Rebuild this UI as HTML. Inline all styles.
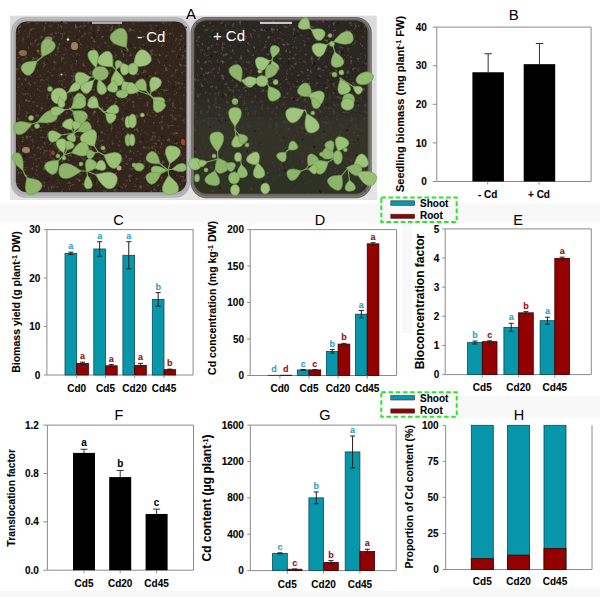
<!DOCTYPE html>
<html><head><meta charset="utf-8"><style>
html,body{margin:0;padding:0;background:#fff;}
svg{display:block;font-family:"Liberation Sans", sans-serif;}
</style></head><body>
<svg width="600" height="597" viewBox="0 0 600 597">
<rect width="600" height="597" fill="#fff"/>
<rect x="0" y="203.5" width="600" height="20" fill="#f8f8f8"/>
<rect x="457" y="396" width="143" height="21.5" fill="#f8f8f8"/>
<rect x="0" y="591" width="440" height="6" fill="#f8f8f8"/>
<rect x="440" y="587.5" width="160" height="9.5" fill="#f8f8f8"/>
<rect x="402.5" y="224" width="9.5" height="109" fill="#f8f8f8"/>
<g>
<rect x="10.00" y="15.80" width="366.50" height="183.70" fill="#dedede" stroke="none" stroke-width="0.6"/>
<rect x="10.00" y="190.00" width="366.50" height="9.50" fill="#e6e6e6" stroke="none" stroke-width="0.6"/>
<defs><filter id="soilTex" x="0" y="0" width="100%" height="100%"><feTurbulence type="fractalNoise" baseFrequency="0.28" numOctaves="3" seed="3" result="n"/><feColorMatrix in="n" type="matrix" values="0 0 0 0 0.30  0 0 0 0 0.22  0 0 0 0 0.16  1.4 0 0 0 -0.85" result="c"/><feComposite in="c" in2="SourceGraphic" operator="in" result="t"/><feMerge><feMergeNode in="SourceGraphic"/><feMergeNode in="t"/></feMerge></filter><linearGradient id="moss" x1="0" y1="0" x2="0" y2="1"><stop offset="0" stop-color="#33362a" stop-opacity="0"/><stop offset="0.45" stop-color="#33362a" stop-opacity="0.8"/><stop offset="1" stop-color="#2e3124" stop-opacity="0.9"/></linearGradient><filter id="soft" x="-2%" y="-2%" width="104%" height="104%"><feGaussianBlur stdDeviation="0.7"/></filter></defs>
<g filter="url(#soft)">
<rect x="10.00" y="15.80" width="366.50" height="183.90" fill="#dcdcdc" stroke="none" stroke-width="0.6"/>
<rect x="10.00" y="185.00" width="366.50" height="14.70" fill="#e4e4e4" stroke="none" stroke-width="0.6"/>
<rect x="11" y="17.3" width="179" height="180.5" rx="15" fill="#adadb1"/>
<rect x="12.6" y="18.9" width="175.8" height="177.3" rx="13.5" fill="none" stroke="#c4c4c7" stroke-width="1"/>
<rect x="15.8" y="21.5" width="170.6" height="170.8" rx="11" fill="#30271f" filter="url(#soilTex)"/>
<rect x="190.6" y="17" width="181.2" height="181.2" rx="16" fill="#6a6560"/>
<rect x="192" y="18.4" width="178.4" height="178.4" rx="14.5" fill="none" stroke="#8a8580" stroke-width="0.9"/>
<rect x="194.3" y="20.6" width="173.3" height="172.8" rx="12" fill="#2a2620" filter="url(#soilTex)"/>
<rect x="194.3" y="80" width="173.3" height="113.4" rx="12" fill="url(#moss)"/>
<circle cx="41.6" cy="132.3" r="0.5" fill="#1f1e19"/>
<circle cx="115.1" cy="176.6" r="0.6" fill="#4a3a2e"/>
<circle cx="27.9" cy="36.5" r="0.8" fill="#5e4634"/>
<circle cx="357.0" cy="128.8" r="0.9" fill="#4a3a2e"/>
<circle cx="262.8" cy="187.9" r="0.4" fill="#5e4634"/>
<circle cx="87.3" cy="113.5" r="0.9" fill="#1f1e19"/>
<circle cx="225.9" cy="120.5" r="1.0" fill="#1c1713"/>
<circle cx="137.1" cy="117.5" r="1.0" fill="#574436"/>
<circle cx="268.1" cy="74.7" r="0.9" fill="#574436"/>
<circle cx="58.2" cy="51.7" r="1.1" fill="#4a3a2e"/>
<circle cx="284.8" cy="170.6" r="1.1" fill="#1c1713"/>
<circle cx="207.5" cy="108.5" r="0.5" fill="#1c1713"/>
<circle cx="99.1" cy="27.7" r="1.0" fill="#5e4634"/>
<circle cx="329.9" cy="160.9" r="0.7" fill="#1c1713"/>
<circle cx="294.2" cy="99.0" r="1.2" fill="#1c1713"/>
<circle cx="128.9" cy="31.4" r="1.0" fill="#453829"/>
<circle cx="311.5" cy="97.2" r="1.0" fill="#453829"/>
<circle cx="175.9" cy="81.8" r="0.9" fill="#574436"/>
<circle cx="146.6" cy="43.1" r="0.6" fill="#574436"/>
<circle cx="279.9" cy="49.4" r="0.8" fill="#1c1713"/>
<circle cx="335.1" cy="168.7" r="0.7" fill="#574436"/>
<circle cx="311.7" cy="86.1" r="0.6" fill="#4a3a2e"/>
<circle cx="55.4" cy="60.9" r="0.8" fill="#1f1e19"/>
<circle cx="63.9" cy="45.9" r="0.9" fill="#1f1e19"/>
<circle cx="358.0" cy="139.1" r="0.9" fill="#1f1e19"/>
<circle cx="321.5" cy="99.1" r="1.2" fill="#5e4634"/>
<circle cx="290.6" cy="89.1" r="0.8" fill="#574436"/>
<circle cx="205.6" cy="32.5" r="0.6" fill="#403228"/>
<circle cx="118.1" cy="38.5" r="0.9" fill="#1f1e19"/>
<circle cx="77.8" cy="25.4" r="1.2" fill="#1f1e19"/>
<circle cx="123.8" cy="184.4" r="0.9" fill="#574436"/>
<circle cx="160.3" cy="190.8" r="0.8" fill="#574436"/>
<circle cx="40.5" cy="149.2" r="1.1" fill="#574436"/>
<circle cx="222.6" cy="24.9" r="1.3" fill="#1f1e19"/>
<circle cx="133.3" cy="177.3" r="1.1" fill="#1c1713"/>
<circle cx="342.6" cy="140.0" r="0.6" fill="#1c1713"/>
<circle cx="255.8" cy="59.1" r="0.9" fill="#1f1e19"/>
<circle cx="53.9" cy="159.8" r="1.3" fill="#5e4634"/>
<circle cx="56.7" cy="89.5" r="1.1" fill="#403228"/>
<circle cx="255.8" cy="26.0" r="0.4" fill="#1c1713"/>
<circle cx="48.9" cy="124.5" r="0.7" fill="#5e4634"/>
<circle cx="364.0" cy="184.3" r="0.7" fill="#403228"/>
<circle cx="95.9" cy="78.8" r="0.8" fill="#1f1e19"/>
<circle cx="277.0" cy="132.7" r="1.1" fill="#4a3a2e"/>
<circle cx="215.5" cy="87.4" r="1.0" fill="#403228"/>
<circle cx="46.3" cy="155.9" r="0.7" fill="#5e4634"/>
<circle cx="318.4" cy="100.2" r="1.1" fill="#4a3a2e"/>
<circle cx="224.1" cy="42.7" r="0.5" fill="#574436"/>
<circle cx="220.0" cy="162.3" r="1.3" fill="#453829"/>
<circle cx="221.7" cy="114.8" r="0.4" fill="#5e4634"/>
<circle cx="306.1" cy="111.0" r="1.2" fill="#574436"/>
<circle cx="228.3" cy="170.4" r="0.4" fill="#403228"/>
<circle cx="56.9" cy="121.3" r="0.6" fill="#574436"/>
<circle cx="205.4" cy="147.5" r="1.2" fill="#453829"/>
<circle cx="349.6" cy="92.9" r="1.2" fill="#1f1e19"/>
<circle cx="41.8" cy="108.3" r="1.2" fill="#5e4634"/>
<circle cx="16.7" cy="157.7" r="0.6" fill="#574436"/>
<circle cx="215.6" cy="31.6" r="1.0" fill="#1f1e19"/>
<circle cx="329.1" cy="39.1" r="0.9" fill="#403228"/>
<circle cx="23.2" cy="37.7" r="0.8" fill="#4a3a2e"/>
<circle cx="351.0" cy="96.8" r="1.0" fill="#1f1e19"/>
<circle cx="229.1" cy="68.4" r="0.9" fill="#5e4634"/>
<circle cx="176.1" cy="140.6" r="1.2" fill="#1c1713"/>
<circle cx="347.7" cy="55.6" r="0.8" fill="#574436"/>
<circle cx="91.2" cy="33.4" r="0.6" fill="#4a3a2e"/>
<circle cx="67.5" cy="41.9" r="1.1" fill="#453829"/>
<circle cx="257.6" cy="64.3" r="0.5" fill="#574436"/>
<circle cx="177.9" cy="89.1" r="0.8" fill="#453829"/>
<circle cx="222.6" cy="94.8" r="0.9" fill="#1c1713"/>
<circle cx="76.6" cy="36.8" r="0.7" fill="#1c1713"/>
<circle cx="270.3" cy="24.1" r="0.7" fill="#1f1e19"/>
<circle cx="179.3" cy="40.3" r="1.2" fill="#403228"/>
<circle cx="212.9" cy="66.4" r="0.4" fill="#5e4634"/>
<circle cx="144.5" cy="161.2" r="1.2" fill="#453829"/>
<circle cx="239.2" cy="46.5" r="1.2" fill="#1f1e19"/>
<circle cx="71.6" cy="68.7" r="1.1" fill="#403228"/>
<circle cx="28.3" cy="181.5" r="1.0" fill="#5e4634"/>
<circle cx="119.4" cy="59.0" r="0.6" fill="#4a3a2e"/>
<circle cx="73.7" cy="115.6" r="1.2" fill="#1c1713"/>
<circle cx="202.4" cy="142.3" r="1.2" fill="#403228"/>
<circle cx="46.8" cy="180.4" r="1.0" fill="#1f1e19"/>
<circle cx="244.6" cy="106.5" r="0.6" fill="#1c1713"/>
<circle cx="365.1" cy="27.3" r="0.4" fill="#1f1e19"/>
<circle cx="227.4" cy="102.2" r="1.2" fill="#4a3a2e"/>
<circle cx="306.2" cy="133.3" r="0.9" fill="#574436"/>
<circle cx="247.6" cy="57.8" r="0.6" fill="#403228"/>
<circle cx="315.9" cy="129.8" r="0.8" fill="#1c1713"/>
<circle cx="338.1" cy="23.4" r="1.0" fill="#1c1713"/>
<circle cx="25.4" cy="134.8" r="0.7" fill="#1f1e19"/>
<circle cx="243.2" cy="62.4" r="0.7" fill="#574436"/>
<circle cx="61.7" cy="21.6" r="0.7" fill="#1c1713"/>
<circle cx="288.5" cy="62.8" r="1.3" fill="#1c1713"/>
<circle cx="47.1" cy="78.3" r="0.5" fill="#1c1713"/>
<circle cx="229.4" cy="107.3" r="0.4" fill="#1c1713"/>
<circle cx="219.6" cy="121.3" r="0.8" fill="#1c1713"/>
<circle cx="55.6" cy="121.1" r="0.9" fill="#5e4634"/>
<circle cx="167.8" cy="155.1" r="0.9" fill="#5e4634"/>
<circle cx="183.4" cy="46.6" r="1.1" fill="#453829"/>
<circle cx="156.2" cy="143.3" r="0.9" fill="#574436"/>
<circle cx="333.9" cy="44.8" r="0.9" fill="#1f1e19"/>
<circle cx="334.0" cy="23.7" r="1.0" fill="#5e4634"/>
<circle cx="311.8" cy="139.6" r="0.6" fill="#4a3a2e"/>
<circle cx="124.3" cy="185.1" r="0.7" fill="#574436"/>
<circle cx="302.3" cy="128.1" r="1.0" fill="#574436"/>
<circle cx="93.7" cy="33.0" r="1.2" fill="#1f1e19"/>
<circle cx="105.4" cy="148.5" r="0.8" fill="#5e4634"/>
<circle cx="61.1" cy="145.7" r="0.6" fill="#453829"/>
<circle cx="273.7" cy="165.6" r="0.5" fill="#453829"/>
<circle cx="23.9" cy="129.2" r="0.6" fill="#1f1e19"/>
<circle cx="59.2" cy="148.1" r="0.7" fill="#1f1e19"/>
<circle cx="98.0" cy="104.1" r="1.3" fill="#4a3a2e"/>
<circle cx="310.5" cy="70.7" r="0.9" fill="#574436"/>
<circle cx="146.4" cy="190.9" r="0.9" fill="#1c1713"/>
<circle cx="355.1" cy="24.0" r="0.8" fill="#5e4634"/>
<circle cx="365.1" cy="191.0" r="0.7" fill="#403228"/>
<circle cx="31.4" cy="148.8" r="0.6" fill="#1c1713"/>
<circle cx="155.4" cy="108.0" r="1.2" fill="#453829"/>
<circle cx="100.6" cy="170.8" r="0.8" fill="#403228"/>
<circle cx="99.6" cy="98.1" r="0.7" fill="#403228"/>
<circle cx="79.9" cy="41.7" r="0.7" fill="#1c1713"/>
<circle cx="338.5" cy="41.5" r="1.2" fill="#453829"/>
<circle cx="141.8" cy="64.3" r="0.5" fill="#574436"/>
<circle cx="295.7" cy="82.7" r="0.8" fill="#1c1713"/>
<circle cx="243.0" cy="29.8" r="1.0" fill="#453829"/>
<circle cx="237.6" cy="66.4" r="0.9" fill="#403228"/>
<circle cx="329.3" cy="94.1" r="0.4" fill="#5e4634"/>
<circle cx="351.2" cy="181.9" r="0.9" fill="#453829"/>
<circle cx="174.7" cy="91.3" r="1.0" fill="#403228"/>
<circle cx="243.9" cy="29.4" r="1.2" fill="#403228"/>
<circle cx="86.5" cy="69.2" r="0.6" fill="#453829"/>
<circle cx="239.5" cy="133.2" r="0.7" fill="#1f1e19"/>
<circle cx="215.5" cy="131.0" r="0.5" fill="#1f1e19"/>
<circle cx="280.0" cy="58.6" r="1.2" fill="#5e4634"/>
<circle cx="39.7" cy="53.9" r="0.5" fill="#1c1713"/>
<circle cx="249.6" cy="84.0" r="1.1" fill="#403228"/>
<circle cx="323.2" cy="91.6" r="0.8" fill="#1f1e19"/>
<circle cx="61.9" cy="149.6" r="0.8" fill="#1f1e19"/>
<circle cx="216.5" cy="107.1" r="1.0" fill="#5e4634"/>
<circle cx="210.8" cy="174.4" r="0.7" fill="#453829"/>
<circle cx="178.2" cy="166.1" r="1.2" fill="#4a3a2e"/>
<circle cx="88.3" cy="151.6" r="1.1" fill="#1f1e19"/>
<circle cx="28.4" cy="180.1" r="1.2" fill="#1f1e19"/>
<circle cx="361.3" cy="63.5" r="0.5" fill="#403228"/>
<circle cx="181.2" cy="39.6" r="1.1" fill="#453829"/>
<circle cx="325.8" cy="99.2" r="0.9" fill="#4a3a2e"/>
<circle cx="37.4" cy="118.4" r="0.4" fill="#453829"/>
<circle cx="37.8" cy="64.1" r="1.0" fill="#453829"/>
<circle cx="212.0" cy="72.4" r="1.2" fill="#403228"/>
<circle cx="54.0" cy="123.8" r="0.4" fill="#1c1713"/>
<circle cx="242.6" cy="75.1" r="1.2" fill="#403228"/>
<circle cx="55.9" cy="63.2" r="1.3" fill="#453829"/>
<circle cx="204.5" cy="54.2" r="1.2" fill="#453829"/>
<circle cx="59.7" cy="135.1" r="1.2" fill="#403228"/>
<circle cx="134.3" cy="143.8" r="0.7" fill="#574436"/>
<circle cx="151.5" cy="147.4" r="0.9" fill="#403228"/>
<circle cx="50.1" cy="152.0" r="0.6" fill="#574436"/>
<circle cx="145.3" cy="71.4" r="1.3" fill="#574436"/>
<circle cx="348.3" cy="103.9" r="1.2" fill="#4a3a2e"/>
<circle cx="220.0" cy="88.3" r="0.6" fill="#1f1e19"/>
<circle cx="24.8" cy="31.3" r="0.8" fill="#453829"/>
<circle cx="320.3" cy="191.6" r="1.2" fill="#1c1713"/>
<circle cx="126.9" cy="110.7" r="0.8" fill="#1c1713"/>
<circle cx="259.7" cy="84.9" r="0.7" fill="#403228"/>
<circle cx="29.3" cy="34.8" r="0.8" fill="#4a3a2e"/>
<circle cx="324.8" cy="86.0" r="1.1" fill="#1c1713"/>
<circle cx="268.9" cy="29.4" r="0.8" fill="#1c1713"/>
<circle cx="271.3" cy="76.3" r="1.1" fill="#574436"/>
<circle cx="85.8" cy="159.8" r="1.1" fill="#4a3a2e"/>
<circle cx="94.9" cy="158.4" r="0.5" fill="#403228"/>
<circle cx="348.7" cy="79.0" r="0.6" fill="#1f1e19"/>
<circle cx="142.9" cy="138.9" r="1.2" fill="#1c1713"/>
<circle cx="144.5" cy="177.7" r="1.0" fill="#4a3a2e"/>
<circle cx="55.8" cy="102.3" r="1.3" fill="#5e4634"/>
<circle cx="58.7" cy="94.5" r="0.8" fill="#574436"/>
<circle cx="152.4" cy="147.3" r="1.1" fill="#5e4634"/>
<circle cx="56.1" cy="168.3" r="0.8" fill="#5e4634"/>
<circle cx="208.5" cy="54.7" r="1.1" fill="#403228"/>
<circle cx="126.4" cy="103.4" r="0.9" fill="#403228"/>
<circle cx="346.1" cy="189.9" r="0.6" fill="#4a3a2e"/>
<circle cx="87.6" cy="190.0" r="1.3" fill="#403228"/>
<circle cx="86.9" cy="127.1" r="1.0" fill="#453829"/>
<circle cx="327.3" cy="150.9" r="1.1" fill="#1c1713"/>
<circle cx="112.4" cy="84.8" r="1.1" fill="#403228"/>
<circle cx="47.6" cy="61.3" r="0.7" fill="#1f1e19"/>
<circle cx="27.0" cy="64.0" r="0.6" fill="#1f1e19"/>
<circle cx="153.4" cy="132.7" r="1.3" fill="#4a3a2e"/>
<circle cx="166.1" cy="60.5" r="0.8" fill="#1c1713"/>
<circle cx="65.9" cy="41.4" r="0.6" fill="#5e4634"/>
<circle cx="354.1" cy="84.7" r="1.2" fill="#574436"/>
<circle cx="327.5" cy="134.7" r="0.4" fill="#453829"/>
<circle cx="301.0" cy="58.2" r="0.7" fill="#403228"/>
<circle cx="186.0" cy="27.5" r="1.1" fill="#403228"/>
<circle cx="335.0" cy="90.9" r="0.7" fill="#1f1e19"/>
<circle cx="50.6" cy="157.0" r="0.9" fill="#4a3a2e"/>
<circle cx="151.3" cy="134.5" r="0.5" fill="#1f1e19"/>
<circle cx="43.8" cy="139.9" r="0.8" fill="#1c1713"/>
<circle cx="266.5" cy="29.8" r="1.1" fill="#1c1713"/>
<circle cx="19.1" cy="152.1" r="1.1" fill="#453829"/>
<circle cx="139.8" cy="55.8" r="0.4" fill="#403228"/>
<circle cx="155.5" cy="90.5" r="1.2" fill="#574436"/>
<circle cx="217.2" cy="29.8" r="0.5" fill="#5e4634"/>
<circle cx="210.2" cy="127.4" r="0.7" fill="#1f1e19"/>
<circle cx="75.2" cy="48.7" r="0.6" fill="#4a3a2e"/>
<circle cx="99.4" cy="158.6" r="1.3" fill="#403228"/>
<circle cx="158.3" cy="28.4" r="1.2" fill="#1c1713"/>
<circle cx="173.4" cy="87.3" r="1.2" fill="#1f1e19"/>
<circle cx="347.4" cy="130.5" r="1.2" fill="#1f1e19"/>
<circle cx="159.9" cy="162.8" r="0.6" fill="#403228"/>
<circle cx="175.6" cy="47.8" r="0.7" fill="#403228"/>
<circle cx="139.2" cy="174.4" r="0.4" fill="#1f1e19"/>
<circle cx="310.0" cy="135.2" r="0.7" fill="#574436"/>
<circle cx="289.1" cy="128.2" r="0.7" fill="#574436"/>
<circle cx="58.4" cy="87.6" r="0.7" fill="#1f1e19"/>
<circle cx="20.0" cy="126.8" r="0.8" fill="#403228"/>
<circle cx="121.2" cy="161.0" r="1.2" fill="#5e4634"/>
<circle cx="34.2" cy="43.0" r="0.8" fill="#4a3a2e"/>
<circle cx="281.2" cy="133.4" r="0.4" fill="#403228"/>
<circle cx="140.7" cy="154.0" r="0.9" fill="#4a3a2e"/>
<circle cx="348.0" cy="132.6" r="1.1" fill="#4a3a2e"/>
<circle cx="365.3" cy="146.2" r="1.1" fill="#403228"/>
<circle cx="166.6" cy="70.2" r="1.1" fill="#5e4634"/>
<circle cx="150.0" cy="180.1" r="0.5" fill="#1c1713"/>
<circle cx="238.1" cy="76.4" r="1.0" fill="#5e4634"/>
<circle cx="59.2" cy="185.9" r="0.8" fill="#1f1e19"/>
<circle cx="102.0" cy="75.6" r="0.4" fill="#403228"/>
<circle cx="124.2" cy="68.6" r="0.7" fill="#574436"/>
<circle cx="149.4" cy="40.7" r="0.9" fill="#453829"/>
<circle cx="360.2" cy="98.5" r="0.9" fill="#453829"/>
<circle cx="212.9" cy="190.8" r="1.0" fill="#574436"/>
<circle cx="258.5" cy="85.3" r="0.7" fill="#403228"/>
<circle cx="146.0" cy="96.6" r="0.6" fill="#453829"/>
<circle cx="245.7" cy="109.3" r="0.7" fill="#5e4634"/>
<circle cx="308.5" cy="74.5" r="0.4" fill="#4a3a2e"/>
<circle cx="65.5" cy="128.0" r="0.8" fill="#1c1713"/>
<circle cx="217.6" cy="59.9" r="1.0" fill="#4a3a2e"/>
<circle cx="112.4" cy="72.9" r="0.9" fill="#1f1e19"/>
<circle cx="115.2" cy="121.7" r="0.6" fill="#1f1e19"/>
<circle cx="222.1" cy="23.4" r="1.1" fill="#453829"/>
<circle cx="32.3" cy="130.1" r="1.2" fill="#5e4634"/>
<circle cx="154.0" cy="186.4" r="0.5" fill="#5e4634"/>
<circle cx="254.9" cy="131.4" r="0.8" fill="#1f1e19"/>
<circle cx="237.5" cy="175.5" r="0.4" fill="#1f1e19"/>
<circle cx="47.6" cy="48.2" r="1.2" fill="#4a3a2e"/>
<circle cx="109.7" cy="181.9" r="0.5" fill="#403228"/>
<circle cx="304.9" cy="131.7" r="0.8" fill="#1f1e19"/>
<circle cx="68.6" cy="72.3" r="0.4" fill="#453829"/>
<circle cx="317.3" cy="22.1" r="1.2" fill="#453829"/>
<circle cx="208.8" cy="133.1" r="0.6" fill="#4a3a2e"/>
<circle cx="125.5" cy="42.1" r="1.2" fill="#453829"/>
<circle cx="240.0" cy="30.0" r="1.0" fill="#453829"/>
<circle cx="150.0" cy="110.5" r="0.6" fill="#453829"/>
<circle cx="347.9" cy="35.6" r="0.9" fill="#403228"/>
<circle cx="56.1" cy="148.2" r="1.3" fill="#453829"/>
<circle cx="227.8" cy="87.5" r="0.9" fill="#574436"/>
<circle cx="302.8" cy="139.5" r="1.0" fill="#1f1e19"/>
<circle cx="158.8" cy="140.3" r="1.2" fill="#574436"/>
<circle cx="235.0" cy="172.3" r="1.1" fill="#574436"/>
<circle cx="208.3" cy="176.7" r="0.5" fill="#4a3a2e"/>
<circle cx="121.7" cy="48.7" r="1.3" fill="#453829"/>
<circle cx="23.1" cy="139.4" r="1.0" fill="#453829"/>
<circle cx="23.9" cy="167.5" r="1.1" fill="#403228"/>
<circle cx="335.1" cy="173.4" r="0.5" fill="#5e4634"/>
<circle cx="316.6" cy="86.6" r="0.6" fill="#403228"/>
<circle cx="21.9" cy="166.0" r="1.1" fill="#453829"/>
<circle cx="143.7" cy="129.1" r="0.8" fill="#403228"/>
<circle cx="144.8" cy="56.1" r="0.7" fill="#574436"/>
<circle cx="75.7" cy="180.0" r="0.4" fill="#5e4634"/>
<circle cx="70.5" cy="185.8" r="0.9" fill="#5e4634"/>
<circle cx="142.8" cy="155.9" r="0.4" fill="#1f1e19"/>
<circle cx="254.3" cy="141.5" r="0.9" fill="#403228"/>
<circle cx="336.6" cy="119.2" r="0.7" fill="#574436"/>
<circle cx="50.3" cy="151.3" r="1.3" fill="#4a3a2e"/>
<circle cx="32.3" cy="139.9" r="1.1" fill="#574436"/>
<circle cx="358.7" cy="109.1" r="0.9" fill="#403228"/>
<circle cx="52.5" cy="140.6" r="0.8" fill="#4a3a2e"/>
<circle cx="326.1" cy="104.8" r="1.3" fill="#1f1e19"/>
<circle cx="302.4" cy="81.8" r="0.8" fill="#574436"/>
<circle cx="322.4" cy="93.2" r="1.0" fill="#1c1713"/>
<circle cx="60.7" cy="175.1" r="0.9" fill="#574436"/>
<circle cx="302.9" cy="182.4" r="0.5" fill="#1f1e19"/>
<circle cx="323.8" cy="131.5" r="0.7" fill="#1c1713"/>
<circle cx="343.4" cy="98.0" r="0.9" fill="#1c1713"/>
<circle cx="90.6" cy="153.3" r="0.9" fill="#403228"/>
<circle cx="125.3" cy="140.1" r="0.9" fill="#1c1713"/>
<circle cx="135.5" cy="165.3" r="0.5" fill="#403228"/>
<circle cx="318.7" cy="124.1" r="0.7" fill="#403228"/>
<circle cx="48.2" cy="187.8" r="1.1" fill="#4a3a2e"/>
<circle cx="127.8" cy="54.4" r="0.5" fill="#403228"/>
<circle cx="320.4" cy="95.4" r="0.6" fill="#453829"/>
<circle cx="243.0" cy="172.4" r="0.8" fill="#4a3a2e"/>
<circle cx="150.5" cy="139.6" r="0.9" fill="#453829"/>
<circle cx="19.8" cy="65.0" r="1.1" fill="#4a3a2e"/>
<circle cx="350.3" cy="94.5" r="0.9" fill="#453829"/>
<circle cx="339.7" cy="135.2" r="1.0" fill="#5e4634"/>
<circle cx="294.8" cy="60.1" r="0.6" fill="#4a3a2e"/>
<circle cx="69.2" cy="128.4" r="0.5" fill="#574436"/>
<circle cx="84.0" cy="142.9" r="0.5" fill="#5e4634"/>
<circle cx="93.4" cy="127.3" r="0.8" fill="#453829"/>
<circle cx="344.3" cy="174.0" r="0.7" fill="#4a3a2e"/>
<circle cx="99.3" cy="187.7" r="0.4" fill="#1f1e19"/>
<circle cx="137.8" cy="183.7" r="0.6" fill="#1c1713"/>
<circle cx="113.7" cy="113.5" r="1.0" fill="#1f1e19"/>
<circle cx="150.7" cy="84.3" r="0.7" fill="#453829"/>
<circle cx="230.9" cy="138.0" r="0.8" fill="#5e4634"/>
<circle cx="319.7" cy="126.0" r="1.0" fill="#1c1713"/>
<circle cx="83.9" cy="23.3" r="0.8" fill="#574436"/>
<circle cx="310.4" cy="120.2" r="0.5" fill="#1c1713"/>
<circle cx="355.7" cy="111.1" r="0.6" fill="#5e4634"/>
<circle cx="274.0" cy="49.1" r="1.2" fill="#4a3a2e"/>
<circle cx="303.5" cy="101.2" r="0.9" fill="#403228"/>
<circle cx="220.0" cy="134.9" r="1.1" fill="#5e4634"/>
<circle cx="275.0" cy="71.3" r="0.9" fill="#403228"/>
<circle cx="275.3" cy="155.0" r="0.6" fill="#453829"/>
<circle cx="59.1" cy="93.9" r="0.6" fill="#4a3a2e"/>
<circle cx="331.6" cy="82.2" r="1.0" fill="#1c1713"/>
<circle cx="88.8" cy="130.0" r="1.0" fill="#1c1713"/>
<circle cx="67.5" cy="86.9" r="0.5" fill="#1f1e19"/>
<circle cx="329.1" cy="45.0" r="1.1" fill="#453829"/>
<circle cx="307.4" cy="56.9" r="0.5" fill="#1c1713"/>
<circle cx="33.3" cy="45.4" r="0.6" fill="#5e4634"/>
<circle cx="149.4" cy="56.7" r="0.8" fill="#1f1e19"/>
<circle cx="167.5" cy="125.0" r="1.1" fill="#453829"/>
<circle cx="288.8" cy="129.9" r="0.7" fill="#574436"/>
<circle cx="285.8" cy="147.9" r="0.8" fill="#4a3a2e"/>
<circle cx="240.2" cy="61.0" r="0.5" fill="#574436"/>
<circle cx="277.8" cy="175.8" r="1.0" fill="#403228"/>
<circle cx="107.7" cy="168.6" r="0.4" fill="#5e4634"/>
<circle cx="134.3" cy="106.1" r="0.7" fill="#574436"/>
<circle cx="87.2" cy="185.3" r="0.5" fill="#453829"/>
<circle cx="125.9" cy="24.5" r="0.4" fill="#453829"/>
<circle cx="251.5" cy="188.9" r="0.9" fill="#574436"/>
<circle cx="219.7" cy="57.5" r="0.8" fill="#403228"/>
<circle cx="162.5" cy="83.6" r="0.8" fill="#1f1e19"/>
<circle cx="351.0" cy="69.6" r="0.7" fill="#1c1713"/>
<circle cx="336.4" cy="71.1" r="1.1" fill="#574436"/>
<circle cx="183.3" cy="170.3" r="0.7" fill="#403228"/>
<circle cx="330.4" cy="77.6" r="0.7" fill="#1c1713"/>
<circle cx="181.4" cy="36.0" r="1.3" fill="#574436"/>
<circle cx="346.4" cy="114.3" r="0.4" fill="#1c1713"/>
<circle cx="23.9" cy="161.6" r="0.8" fill="#5e4634"/>
<circle cx="329.9" cy="176.6" r="1.0" fill="#1f1e19"/>
<circle cx="130.5" cy="138.8" r="1.2" fill="#4a3a2e"/>
<circle cx="129.4" cy="99.3" r="1.1" fill="#4a3a2e"/>
<circle cx="343.6" cy="93.1" r="0.5" fill="#453829"/>
<circle cx="164.2" cy="44.7" r="0.7" fill="#453829"/>
<circle cx="67.3" cy="93.1" r="0.7" fill="#574436"/>
<circle cx="293.9" cy="177.3" r="0.8" fill="#1f1e19"/>
<circle cx="36.2" cy="159.6" r="0.9" fill="#574436"/>
<circle cx="18.4" cy="87.2" r="0.9" fill="#453829"/>
<circle cx="276.3" cy="91.5" r="0.5" fill="#453829"/>
<circle cx="168.3" cy="128.2" r="0.8" fill="#4a3a2e"/>
<circle cx="215.8" cy="186.2" r="0.5" fill="#5e4634"/>
<circle cx="96.3" cy="68.1" r="0.9" fill="#574436"/>
<circle cx="227.0" cy="29.6" r="1.1" fill="#453829"/>
<circle cx="219.8" cy="150.8" r="0.7" fill="#1f1e19"/>
<circle cx="273.8" cy="180.4" r="0.6" fill="#4a3a2e"/>
<circle cx="196.9" cy="23.5" r="1.0" fill="#5e4634"/>
<circle cx="261.5" cy="74.4" r="0.9" fill="#5e4634"/>
<circle cx="299.1" cy="75.1" r="1.3" fill="#453829"/>
<circle cx="131.1" cy="45.8" r="1.1" fill="#1c1713"/>
<circle cx="223.0" cy="158.1" r="0.8" fill="#5e4634"/>
<circle cx="356.6" cy="155.2" r="0.9" fill="#1c1713"/>
<circle cx="121.7" cy="132.3" r="1.1" fill="#1f1e19"/>
<circle cx="119.0" cy="188.1" r="1.1" fill="#1f1e19"/>
<circle cx="295.0" cy="188.0" r="0.6" fill="#574436"/>
<circle cx="297.9" cy="174.2" r="1.1" fill="#1c1713"/>
<circle cx="250.0" cy="66.8" r="0.5" fill="#5e4634"/>
<circle cx="328.9" cy="70.3" r="0.5" fill="#5e4634"/>
<circle cx="220.1" cy="187.8" r="1.1" fill="#1f1e19"/>
<circle cx="351.3" cy="80.3" r="0.5" fill="#1f1e19"/>
<circle cx="80.9" cy="155.7" r="1.0" fill="#403228"/>
<circle cx="25.8" cy="88.6" r="1.0" fill="#1c1713"/>
<circle cx="196.6" cy="86.8" r="0.9" fill="#1f1e19"/>
<circle cx="327.0" cy="60.8" r="0.9" fill="#1c1713"/>
<circle cx="284.2" cy="102.5" r="0.9" fill="#403228"/>
<circle cx="31.7" cy="158.8" r="0.7" fill="#1f1e19"/>
<circle cx="263.8" cy="109.4" r="0.5" fill="#4a3a2e"/>
<circle cx="279.3" cy="169.1" r="0.7" fill="#574436"/>
<circle cx="221.7" cy="123.1" r="0.7" fill="#1f1e19"/>
<circle cx="211.1" cy="56.0" r="1.2" fill="#1f1e19"/>
<circle cx="112.4" cy="65.7" r="1.1" fill="#574436"/>
<circle cx="92.0" cy="122.4" r="0.9" fill="#403228"/>
<circle cx="22.4" cy="55.4" r="0.6" fill="#4a3a2e"/>
<circle cx="21.9" cy="84.2" r="1.0" fill="#574436"/>
<circle cx="350.6" cy="32.0" r="0.9" fill="#574436"/>
<circle cx="315.8" cy="36.4" r="0.7" fill="#403228"/>
<circle cx="358.5" cy="135.5" r="0.8" fill="#574436"/>
<circle cx="258.4" cy="61.2" r="1.0" fill="#403228"/>
<circle cx="59.5" cy="81.2" r="1.2" fill="#4a3a2e"/>
<circle cx="203.0" cy="155.5" r="1.0" fill="#453829"/>
<circle cx="277.7" cy="38.3" r="0.7" fill="#4a3a2e"/>
<circle cx="310.7" cy="72.1" r="0.9" fill="#5e4634"/>
<circle cx="275.5" cy="84.6" r="0.8" fill="#1c1713"/>
<circle cx="44.7" cy="61.8" r="0.5" fill="#453829"/>
<circle cx="275.0" cy="177.1" r="1.1" fill="#403228"/>
<circle cx="232.7" cy="180.7" r="1.2" fill="#453829"/>
<circle cx="92.0" cy="37.6" r="1.2" fill="#5e4634"/>
<circle cx="28.8" cy="187.3" r="0.7" fill="#403228"/>
<circle cx="122.8" cy="45.4" r="0.6" fill="#4a3a2e"/>
<circle cx="92.7" cy="173.1" r="0.8" fill="#403228"/>
<circle cx="86.0" cy="47.6" r="0.6" fill="#5e4634"/>
<circle cx="152.7" cy="65.6" r="0.5" fill="#574436"/>
<circle cx="214.5" cy="188.3" r="0.5" fill="#5e4634"/>
<circle cx="231.1" cy="102.6" r="0.7" fill="#1c1713"/>
<circle cx="361.0" cy="94.9" r="0.6" fill="#403228"/>
<circle cx="211.7" cy="70.5" r="1.2" fill="#4a3a2e"/>
<circle cx="362.3" cy="45.7" r="1.0" fill="#574436"/>
<circle cx="253.3" cy="45.0" r="0.4" fill="#5e4634"/>
<circle cx="244.0" cy="82.6" r="0.4" fill="#574436"/>
<circle cx="113.1" cy="44.6" r="0.6" fill="#5e4634"/>
<circle cx="45.9" cy="123.7" r="1.1" fill="#1f1e19"/>
<circle cx="325.2" cy="51.0" r="0.5" fill="#453829"/>
<circle cx="333.8" cy="120.7" r="0.6" fill="#4a3a2e"/>
<circle cx="283.8" cy="164.8" r="1.2" fill="#1f1e19"/>
<circle cx="252.3" cy="165.0" r="1.2" fill="#574436"/>
<circle cx="85.6" cy="151.5" r="0.5" fill="#453829"/>
<circle cx="47.6" cy="163.2" r="0.7" fill="#403228"/>
<circle cx="293.3" cy="167.7" r="0.7" fill="#574436"/>
<circle cx="207.2" cy="82.0" r="0.6" fill="#5e4634"/>
<circle cx="249.9" cy="142.6" r="0.7" fill="#5e4634"/>
<circle cx="244.9" cy="39.4" r="1.1" fill="#574436"/>
<circle cx="285.7" cy="112.9" r="0.4" fill="#4a3a2e"/>
<circle cx="47.0" cy="38.6" r="0.6" fill="#5e4634"/>
<circle cx="198.3" cy="179.4" r="1.1" fill="#1c1713"/>
<circle cx="117.9" cy="119.6" r="0.9" fill="#453829"/>
<circle cx="75.6" cy="37.1" r="0.6" fill="#1c1713"/>
<circle cx="99.9" cy="106.6" r="0.7" fill="#4a3a2e"/>
<circle cx="166.4" cy="113.6" r="0.6" fill="#403228"/>
<circle cx="113.4" cy="148.7" r="0.5" fill="#5e4634"/>
<circle cx="123.9" cy="139.7" r="0.9" fill="#1f1e19"/>
<circle cx="262.7" cy="182.0" r="1.1" fill="#1c1713"/>
<circle cx="158.6" cy="143.4" r="1.2" fill="#1f1e19"/>
<circle cx="351.1" cy="160.4" r="1.2" fill="#4a3a2e"/>
<circle cx="40.9" cy="137.3" r="0.7" fill="#5e4634"/>
<circle cx="123.6" cy="83.3" r="0.9" fill="#4a3a2e"/>
<circle cx="50.1" cy="135.4" r="0.6" fill="#574436"/>
<circle cx="327.8" cy="181.2" r="1.0" fill="#5e4634"/>
<circle cx="361.4" cy="27.9" r="1.2" fill="#1f1e19"/>
<circle cx="131.3" cy="67.8" r="0.9" fill="#4a3a2e"/>
<circle cx="237.8" cy="110.0" r="0.8" fill="#4a3a2e"/>
<circle cx="67.9" cy="131.7" r="0.5" fill="#1f1e19"/>
<circle cx="352.5" cy="175.1" r="0.5" fill="#1f1e19"/>
<circle cx="220.4" cy="42.2" r="0.5" fill="#1c1713"/>
<circle cx="293.7" cy="67.9" r="1.1" fill="#453829"/>
<circle cx="338.6" cy="125.3" r="0.9" fill="#453829"/>
<circle cx="109.3" cy="83.7" r="1.2" fill="#1c1713"/>
<circle cx="275.2" cy="74.1" r="0.6" fill="#403228"/>
<circle cx="108.8" cy="186.8" r="0.8" fill="#1c1713"/>
<circle cx="177.9" cy="76.4" r="0.7" fill="#1c1713"/>
<circle cx="183.9" cy="71.5" r="1.1" fill="#403228"/>
<circle cx="298.6" cy="80.5" r="1.0" fill="#1f1e19"/>
<circle cx="90.8" cy="146.8" r="0.5" fill="#403228"/>
<circle cx="310.9" cy="180.7" r="0.8" fill="#453829"/>
<circle cx="130.8" cy="126.4" r="1.2" fill="#5e4634"/>
<circle cx="211.3" cy="167.4" r="1.2" fill="#574436"/>
<circle cx="123.2" cy="129.1" r="1.0" fill="#574436"/>
<circle cx="195.7" cy="151.9" r="0.9" fill="#574436"/>
<circle cx="184.8" cy="46.6" r="1.2" fill="#1c1713"/>
<circle cx="298.9" cy="85.9" r="0.8" fill="#574436"/>
<circle cx="75.9" cy="81.4" r="0.9" fill="#1f1e19"/>
<circle cx="70.7" cy="155.6" r="1.2" fill="#574436"/>
<circle cx="67.0" cy="112.8" r="1.1" fill="#574436"/>
<circle cx="294.5" cy="36.0" r="1.2" fill="#1c1713"/>
<circle cx="299.0" cy="62.5" r="0.7" fill="#574436"/>
<circle cx="358.5" cy="25.4" r="0.6" fill="#574436"/>
<circle cx="107.2" cy="74.4" r="1.0" fill="#574436"/>
<circle cx="283.5" cy="138.2" r="0.8" fill="#1c1713"/>
<circle cx="131.0" cy="98.5" r="0.4" fill="#4a3a2e"/>
<circle cx="211.9" cy="85.0" r="0.8" fill="#1f1e19"/>
<circle cx="221.4" cy="53.2" r="0.8" fill="#574436"/>
<circle cx="122.2" cy="191.3" r="0.7" fill="#1f1e19"/>
<circle cx="210.8" cy="83.0" r="0.7" fill="#4a3a2e"/>
<circle cx="282.7" cy="39.9" r="1.2" fill="#453829"/>
<circle cx="175.0" cy="108.0" r="1.3" fill="#453829"/>
<circle cx="65.3" cy="108.5" r="0.9" fill="#403228"/>
<circle cx="26.2" cy="117.6" r="0.5" fill="#1f1e19"/>
<circle cx="303.8" cy="28.2" r="0.8" fill="#5e4634"/>
<circle cx="136.8" cy="115.6" r="1.2" fill="#574436"/>
<circle cx="295.2" cy="135.2" r="0.6" fill="#574436"/>
<circle cx="292.0" cy="170.0" r="1.2" fill="#1f1e19"/>
<circle cx="293.2" cy="91.3" r="0.5" fill="#403228"/>
<circle cx="282.1" cy="26.0" r="0.5" fill="#1f1e19"/>
<circle cx="95.5" cy="94.6" r="1.1" fill="#453829"/>
<circle cx="147.0" cy="76.2" r="1.0" fill="#1c1713"/>
<circle cx="21.6" cy="128.5" r="1.2" fill="#1f1e19"/>
<circle cx="48.6" cy="127.7" r="0.4" fill="#403228"/>
<circle cx="294.6" cy="185.1" r="0.8" fill="#1f1e19"/>
<circle cx="53.9" cy="48.3" r="0.9" fill="#403228"/>
<circle cx="168.8" cy="160.5" r="0.7" fill="#1f1e19"/>
<circle cx="166.8" cy="188.5" r="0.5" fill="#453829"/>
<circle cx="138.1" cy="58.9" r="0.7" fill="#453829"/>
<circle cx="150.8" cy="62.6" r="0.6" fill="#1c1713"/>
<circle cx="17.3" cy="171.9" r="0.8" fill="#1c1713"/>
<circle cx="106.7" cy="86.9" r="0.8" fill="#4a3a2e"/>
<circle cx="267.2" cy="177.1" r="0.9" fill="#574436"/>
<circle cx="64.2" cy="61.6" r="0.4" fill="#453829"/>
<circle cx="152.8" cy="62.3" r="0.5" fill="#403228"/>
<circle cx="158.0" cy="42.9" r="0.8" fill="#5e4634"/>
<circle cx="236.1" cy="83.9" r="0.6" fill="#574436"/>
<circle cx="178.9" cy="56.6" r="1.3" fill="#1f1e19"/>
<circle cx="161.9" cy="136.5" r="1.2" fill="#1c1713"/>
<circle cx="270.3" cy="190.3" r="0.9" fill="#574436"/>
<circle cx="231.3" cy="170.2" r="0.5" fill="#1f1e19"/>
<circle cx="160.8" cy="146.8" r="1.1" fill="#4a3a2e"/>
<circle cx="292.1" cy="74.1" r="0.8" fill="#4a3a2e"/>
<circle cx="327.7" cy="60.6" r="0.6" fill="#4a3a2e"/>
<circle cx="171.4" cy="158.7" r="1.1" fill="#403228"/>
<circle cx="68.9" cy="59.7" r="0.5" fill="#453829"/>
<circle cx="76.5" cy="165.4" r="0.8" fill="#453829"/>
<circle cx="342.3" cy="43.6" r="0.6" fill="#4a3a2e"/>
<circle cx="151.9" cy="139.2" r="1.2" fill="#4a3a2e"/>
<circle cx="314.6" cy="63.5" r="1.2" fill="#1c1713"/>
<circle cx="211.7" cy="70.8" r="0.6" fill="#1f1e19"/>
<circle cx="316.9" cy="27.9" r="0.4" fill="#403228"/>
<circle cx="144.7" cy="47.7" r="1.1" fill="#1f1e19"/>
<circle cx="124.5" cy="51.7" r="1.2" fill="#1f1e19"/>
<circle cx="104.5" cy="179.3" r="1.0" fill="#1f1e19"/>
<circle cx="16.2" cy="163.7" r="1.1" fill="#1c1713"/>
<circle cx="344.6" cy="121.1" r="1.0" fill="#403228"/>
<circle cx="201.3" cy="75.5" r="1.1" fill="#1c1713"/>
<circle cx="209.7" cy="139.8" r="0.8" fill="#453829"/>
<circle cx="232.8" cy="111.2" r="0.7" fill="#574436"/>
<circle cx="73.9" cy="107.0" r="1.0" fill="#5e4634"/>
<circle cx="272.4" cy="30.3" r="1.0" fill="#574436"/>
<circle cx="339.8" cy="154.1" r="0.8" fill="#403228"/>
<circle cx="135.5" cy="158.8" r="0.6" fill="#1f1e19"/>
<circle cx="148.7" cy="61.4" r="0.6" fill="#4a3a2e"/>
<circle cx="75.0" cy="36.8" r="1.0" fill="#403228"/>
<circle cx="136.2" cy="135.6" r="0.6" fill="#403228"/>
<circle cx="133.6" cy="43.8" r="1.0" fill="#453829"/>
<circle cx="166.4" cy="45.3" r="0.9" fill="#1c1713"/>
<circle cx="215.2" cy="93.6" r="1.2" fill="#453829"/>
<circle cx="297.4" cy="99.9" r="1.1" fill="#5e4634"/>
<circle cx="133.3" cy="23.1" r="0.8" fill="#4a3a2e"/>
<circle cx="63.8" cy="54.7" r="1.0" fill="#574436"/>
<circle cx="222.6" cy="97.1" r="0.9" fill="#1c1713"/>
<circle cx="28.2" cy="22.8" r="1.3" fill="#5e4634"/>
<circle cx="143.0" cy="77.7" r="1.1" fill="#1c1713"/>
<circle cx="99.1" cy="95.3" r="0.6" fill="#1f1e19"/>
<circle cx="77.1" cy="36.6" r="0.7" fill="#1f1e19"/>
<circle cx="306.6" cy="64.0" r="0.6" fill="#403228"/>
<circle cx="199.3" cy="88.6" r="0.5" fill="#1c1713"/>
<circle cx="124.5" cy="165.6" r="1.2" fill="#403228"/>
<circle cx="138.2" cy="74.1" r="1.0" fill="#574436"/>
<circle cx="156.3" cy="75.7" r="0.7" fill="#1f1e19"/>
<circle cx="338.3" cy="64.4" r="0.5" fill="#4a3a2e"/>
<circle cx="302.4" cy="161.2" r="1.0" fill="#4a3a2e"/>
<circle cx="279.5" cy="106.4" r="0.5" fill="#1c1713"/>
<circle cx="302.1" cy="45.3" r="0.6" fill="#403228"/>
<circle cx="180.9" cy="36.3" r="0.4" fill="#574436"/>
<circle cx="53.1" cy="84.7" r="0.4" fill="#1f1e19"/>
<circle cx="329.6" cy="93.8" r="0.7" fill="#453829"/>
<circle cx="136.8" cy="173.3" r="0.5" fill="#4a3a2e"/>
<circle cx="336.3" cy="175.6" r="0.5" fill="#1c1713"/>
<circle cx="152.7" cy="136.5" r="0.9" fill="#574436"/>
<circle cx="71.0" cy="99.7" r="1.3" fill="#453829"/>
<circle cx="361.6" cy="185.5" r="1.0" fill="#5e4634"/>
<circle cx="318.6" cy="77.7" r="1.0" fill="#1f1e19"/>
<circle cx="357.9" cy="103.2" r="1.0" fill="#1c1713"/>
<circle cx="285.7" cy="129.4" r="1.2" fill="#403228"/>
<circle cx="271.5" cy="35.6" r="1.0" fill="#1c1713"/>
<circle cx="356.3" cy="82.6" r="0.6" fill="#574436"/>
<circle cx="35.4" cy="51.9" r="1.2" fill="#1f1e19"/>
<circle cx="232.8" cy="164.2" r="1.0" fill="#403228"/>
<circle cx="238.0" cy="104.7" r="0.9" fill="#403228"/>
<circle cx="314.1" cy="146.8" r="1.2" fill="#1f1e19"/>
<circle cx="85.4" cy="33.6" r="0.8" fill="#5e4634"/>
<circle cx="281.7" cy="164.4" r="1.3" fill="#453829"/>
<circle cx="318.4" cy="38.5" r="1.1" fill="#574436"/>
<circle cx="360.5" cy="53.8" r="0.8" fill="#4a3a2e"/>
<circle cx="147.9" cy="30.8" r="0.6" fill="#1c1713"/>
<circle cx="135.3" cy="184.4" r="0.8" fill="#4a3a2e"/>
<circle cx="267.8" cy="173.0" r="1.0" fill="#5e4634"/>
<circle cx="35.5" cy="145.5" r="0.7" fill="#1c1713"/>
<circle cx="253.4" cy="151.6" r="1.0" fill="#5e4634"/>
<circle cx="56.7" cy="108.8" r="0.9" fill="#1c1713"/>
<circle cx="202.4" cy="124.2" r="0.5" fill="#1f1e19"/>
<circle cx="118.5" cy="26.8" r="1.2" fill="#403228"/>
<circle cx="48.8" cy="97.4" r="1.2" fill="#1f1e19"/>
<circle cx="150.5" cy="104.5" r="0.5" fill="#1c1713"/>
<circle cx="110.2" cy="70.6" r="1.0" fill="#574436"/>
<circle cx="295.6" cy="63.8" r="1.3" fill="#5e4634"/>
<circle cx="357.2" cy="23.4" r="0.7" fill="#403228"/>
<circle cx="98.3" cy="26.4" r="1.2" fill="#4a3a2e"/>
<circle cx="155.1" cy="137.2" r="0.8" fill="#574436"/>
<circle cx="313.5" cy="97.7" r="0.6" fill="#1f1e19"/>
<circle cx="256.7" cy="111.3" r="0.7" fill="#403228"/>
<circle cx="202.5" cy="50.0" r="0.7" fill="#574436"/>
<circle cx="95.6" cy="181.3" r="0.7" fill="#1c1713"/>
<circle cx="252.1" cy="24.5" r="0.8" fill="#1f1e19"/>
<circle cx="40.8" cy="135.7" r="0.6" fill="#1c1713"/>
<circle cx="184.5" cy="82.0" r="0.9" fill="#1f1e19"/>
<circle cx="364.7" cy="26.8" r="0.9" fill="#5e4634"/>
<circle cx="49.9" cy="93.9" r="0.9" fill="#4a3a2e"/>
<circle cx="63.9" cy="157.0" r="1.2" fill="#403228"/>
<circle cx="247.0" cy="151.5" r="1.1" fill="#1f1e19"/>
<circle cx="236.9" cy="170.3" r="1.0" fill="#1c1713"/>
<circle cx="73.3" cy="76.3" r="1.3" fill="#574436"/>
<circle cx="347.9" cy="159.4" r="1.3" fill="#403228"/>
<circle cx="17.2" cy="169.9" r="0.8" fill="#574436"/>
<circle cx="147.3" cy="179.9" r="0.9" fill="#403228"/>
<circle cx="68.4" cy="145.3" r="0.9" fill="#1c1713"/>
<circle cx="48.3" cy="179.1" r="0.9" fill="#1c1713"/>
<circle cx="363.9" cy="82.0" r="1.1" fill="#574436"/>
<circle cx="352.7" cy="164.4" r="0.7" fill="#403228"/>
<circle cx="59.8" cy="24.9" r="0.5" fill="#1c1713"/>
<circle cx="19.4" cy="29.2" r="0.8" fill="#1f1e19"/>
<circle cx="101.3" cy="38.0" r="0.6" fill="#4a3a2e"/>
<circle cx="297.8" cy="34.6" r="1.1" fill="#1f1e19"/>
<circle cx="39.2" cy="53.2" r="0.9" fill="#4a3a2e"/>
<circle cx="352.8" cy="57.3" r="0.7" fill="#453829"/>
<circle cx="98.7" cy="125.3" r="1.1" fill="#403228"/>
<circle cx="86.4" cy="28.8" r="1.0" fill="#1c1713"/>
<circle cx="363.9" cy="89.3" r="1.2" fill="#5e4634"/>
<circle cx="173.3" cy="117.5" r="1.3" fill="#4a3a2e"/>
<circle cx="136.7" cy="163.8" r="0.5" fill="#4a3a2e"/>
<circle cx="40.3" cy="152.2" r="0.5" fill="#5e4634"/>
<circle cx="74.5" cy="137.3" r="1.2" fill="#403228"/>
<circle cx="297.9" cy="77.6" r="1.1" fill="#1c1713"/>
<circle cx="276.7" cy="26.4" r="1.0" fill="#453829"/>
<circle cx="362.1" cy="98.5" r="0.7" fill="#1f1e19"/>
<circle cx="241.8" cy="64.2" r="0.9" fill="#4a3a2e"/>
<circle cx="327.4" cy="83.0" r="1.3" fill="#403228"/>
<circle cx="182.4" cy="181.2" r="1.0" fill="#4a3a2e"/>
<circle cx="101.3" cy="115.9" r="0.6" fill="#1f1e19"/>
<circle cx="41.4" cy="51.3" r="1.1" fill="#5e4634"/>
<circle cx="20.9" cy="154.1" r="0.6" fill="#5e4634"/>
<circle cx="124.1" cy="79.9" r="1.1" fill="#574436"/>
<circle cx="150.3" cy="25.5" r="1.0" fill="#4a3a2e"/>
<circle cx="125.7" cy="89.7" r="1.2" fill="#4a3a2e"/>
<circle cx="79.9" cy="176.1" r="0.7" fill="#453829"/>
<circle cx="233.3" cy="64.1" r="0.6" fill="#574436"/>
<circle cx="76.2" cy="76.8" r="0.8" fill="#1c1713"/>
<circle cx="185.0" cy="58.0" r="0.9" fill="#403228"/>
<circle cx="174.8" cy="152.5" r="1.3" fill="#403228"/>
<circle cx="243.3" cy="77.7" r="0.8" fill="#403228"/>
<circle cx="132.1" cy="123.2" r="0.8" fill="#1f1e19"/>
<circle cx="149.0" cy="166.6" r="1.1" fill="#4a3a2e"/>
<circle cx="342.6" cy="52.2" r="1.2" fill="#1c1713"/>
<circle cx="332.7" cy="47.0" r="1.2" fill="#403228"/>
<circle cx="220.8" cy="146.9" r="0.5" fill="#403228"/>
<circle cx="83.5" cy="91.8" r="1.0" fill="#453829"/>
<circle cx="345.8" cy="188.5" r="0.4" fill="#403228"/>
<circle cx="122.6" cy="23.6" r="0.5" fill="#1f1e19"/>
<circle cx="89.2" cy="38.9" r="0.4" fill="#1c1713"/>
<circle cx="34.8" cy="184.7" r="1.3" fill="#1f1e19"/>
<circle cx="46.4" cy="138.2" r="0.5" fill="#453829"/>
<circle cx="364.9" cy="111.6" r="1.2" fill="#4a3a2e"/>
<circle cx="52.6" cy="186.4" r="1.2" fill="#453829"/>
<circle cx="135.6" cy="23.6" r="0.6" fill="#4a3a2e"/>
<circle cx="24.1" cy="156.0" r="1.3" fill="#1c1713"/>
<circle cx="133.0" cy="132.7" r="0.9" fill="#1f1e19"/>
<circle cx="85.8" cy="190.9" r="1.1" fill="#1c1713"/>
<circle cx="70.1" cy="92.7" r="1.3" fill="#574436"/>
<circle cx="345.8" cy="158.4" r="1.2" fill="#453829"/>
<circle cx="119.3" cy="179.4" r="0.6" fill="#1f1e19"/>
<circle cx="364.5" cy="162.2" r="1.0" fill="#4a3a2e"/>
<circle cx="329.1" cy="176.4" r="0.4" fill="#453829"/>
<circle cx="312.1" cy="96.7" r="1.0" fill="#574436"/>
<circle cx="195.2" cy="148.6" r="1.2" fill="#1f1e19"/>
<circle cx="108.9" cy="86.0" r="1.1" fill="#5e4634"/>
<circle cx="259.8" cy="142.8" r="0.8" fill="#1f1e19"/>
<circle cx="128.1" cy="162.3" r="0.5" fill="#5e4634"/>
<circle cx="233.2" cy="125.7" r="0.6" fill="#5e4634"/>
<circle cx="138.7" cy="110.3" r="0.8" fill="#403228"/>
<circle cx="206.3" cy="150.5" r="0.7" fill="#403228"/>
<circle cx="334.1" cy="61.8" r="0.6" fill="#5e4634"/>
<circle cx="225.4" cy="183.0" r="1.2" fill="#453829"/>
<circle cx="202.4" cy="86.2" r="1.1" fill="#5e4634"/>
<circle cx="85.7" cy="141.1" r="0.7" fill="#1c1713"/>
<circle cx="152.5" cy="110.2" r="0.8" fill="#4a3a2e"/>
<circle cx="65.4" cy="97.3" r="0.5" fill="#453829"/>
<circle cx="151.7" cy="150.8" r="0.5" fill="#453829"/>
<circle cx="99.1" cy="133.9" r="1.0" fill="#1f1e19"/>
<circle cx="80.8" cy="24.0" r="0.6" fill="#1f1e19"/>
<circle cx="116.4" cy="73.4" r="0.9" fill="#1c1713"/>
<circle cx="61.1" cy="95.9" r="0.9" fill="#574436"/>
<circle cx="229.5" cy="93.4" r="1.1" fill="#1f1e19"/>
<circle cx="352.4" cy="143.7" r="0.7" fill="#4a3a2e"/>
<circle cx="245.5" cy="90.8" r="1.0" fill="#5e4634"/>
<circle cx="56.6" cy="166.3" r="0.5" fill="#1f1e19"/>
<circle cx="181.1" cy="142.7" r="0.7" fill="#453829"/>
<circle cx="162.2" cy="34.7" r="0.8" fill="#574436"/>
<circle cx="279.9" cy="175.1" r="1.1" fill="#4a3a2e"/>
<circle cx="111.8" cy="180.9" r="1.0" fill="#574436"/>
<circle cx="96.5" cy="173.3" r="0.8" fill="#574436"/>
<circle cx="144.0" cy="22.6" r="0.6" fill="#403228"/>
<circle cx="22.9" cy="137.3" r="0.9" fill="#5e4634"/>
<circle cx="94.2" cy="36.4" r="1.2" fill="#1f1e19"/>
<circle cx="212.4" cy="36.1" r="1.1" fill="#1f1e19"/>
<circle cx="156.1" cy="55.2" r="0.7" fill="#5e4634"/>
<circle cx="133.5" cy="92.5" r="0.9" fill="#574436"/>
<circle cx="344.1" cy="45.9" r="0.7" fill="#1f1e19"/>
<circle cx="226.8" cy="113.1" r="0.9" fill="#4a3a2e"/>
<circle cx="59.4" cy="167.9" r="0.9" fill="#1f1e19"/>
<circle cx="311.5" cy="73.5" r="0.6" fill="#574436"/>
<circle cx="341.5" cy="65.0" r="0.6" fill="#4a3a2e"/>
<circle cx="126.9" cy="180.4" r="1.0" fill="#453829"/>
<circle cx="257.5" cy="158.0" r="0.6" fill="#453829"/>
<circle cx="203.7" cy="74.7" r="0.9" fill="#574436"/>
<ellipse cx="23" cy="53" rx="4" ry="3" fill="#8a6a4a"/>
<ellipse cx="48.5" cy="39" rx="4" ry="2.5" fill="#9a8060"/>
<ellipse cx="74.5" cy="46" rx="3.5" ry="4" fill="#9a8060"/>
<ellipse cx="68" cy="39.5" rx="1.2" ry="1.2" fill="#ddd"/>
<ellipse cx="61.5" cy="74.5" rx="1.2" ry="1" fill="#ccc"/>
<ellipse cx="38" cy="51" rx="1.5" ry="1.5" fill="#a04a28"/>
<ellipse cx="119" cy="168" rx="2.5" ry="2.5" fill="#c0a080"/>
<ellipse cx="26" cy="150" rx="4" ry="3" fill="#a08060"/>
<ellipse cx="53" cy="153" rx="2" ry="2" fill="#a04020"/>
<ellipse cx="183" cy="142" rx="2" ry="3" fill="#b04020"/>
<ellipse cx="110" cy="121" rx="2.5" ry="3" fill="#9a4a30"/>
<rect x="260" y="21.8" width="32" height="2.2" fill="#c8c8c8"/>
<rect x="92" y="21.5" width="30" height="2.5" fill="#b0aaa5"/>
<g stroke="#7aa85a" stroke-width="1.1" stroke-linecap="round">
<line x1="46.6" y1="48.6" x2="42" y2="57"/>
<line x1="30" y1="66.7" x2="42" y2="57"/>
<line x1="120.6" y1="39" x2="128" y2="50"/>
<line x1="94" y1="59" x2="98" y2="76"/>
<line x1="107" y1="60.6" x2="116" y2="70"/>
<line x1="100.4" y1="73.4" x2="98" y2="76"/>
<line x1="83" y1="78.6" x2="98" y2="76"/>
<line x1="117" y1="78" x2="116" y2="70"/>
<line x1="126" y1="69" x2="132" y2="68"/>
<line x1="88" y1="86" x2="98" y2="76"/>
<line x1="74" y1="88" x2="60" y2="98"/>
<line x1="101" y1="86.6" x2="98" y2="76"/>
<line x1="113" y1="86" x2="116" y2="70"/>
<line x1="118" y1="65" x2="116" y2="70"/>
<line x1="126" y1="86" x2="116" y2="70"/>
<line x1="59" y1="96" x2="60" y2="98"/>
<line x1="78" y1="101" x2="70" y2="109"/>
<line x1="94" y1="102" x2="104" y2="112"/>
<line x1="141" y1="60" x2="132" y2="68"/>
<line x1="142" y1="86" x2="150" y2="95"/>
<line x1="133" y1="89" x2="150" y2="95"/>
<line x1="154.4" y1="85" x2="150" y2="95"/>
<line x1="158" y1="101.4" x2="150" y2="95"/>
<line x1="237" y1="73.6" x2="240" y2="80"/>
<line x1="247.6" y1="82" x2="240" y2="80"/>
<line x1="305.3" y1="24.8" x2="312" y2="30"/>
<line x1="317.6" y1="33.4" x2="312" y2="30"/>
<line x1="343.2" y1="38.8" x2="332" y2="42"/>
<line x1="320.4" y1="48.6" x2="332" y2="42"/>
<line x1="336.7" y1="59.4" x2="332" y2="42"/>
<line x1="274.3" y1="51.8" x2="272" y2="60"/>
<line x1="263" y1="63" x2="272" y2="60"/>
<line x1="273.8" y1="66" x2="272" y2="60"/>
<line x1="270" y1="72.4" x2="265" y2="80"/>
<line x1="252.6" y1="81" x2="265" y2="80"/>
<line x1="262" y1="81" x2="265" y2="80"/>
<line x1="272.8" y1="93" x2="265" y2="80"/>
<line x1="343.2" y1="86.5" x2="340" y2="78"/>
<line x1="357.3" y1="89.3" x2="340" y2="78"/>
<line x1="305.9" y1="91.3" x2="310" y2="95"/>
<line x1="316" y1="97.3" x2="310" y2="95"/>
<line x1="23" y1="127" x2="38" y2="122"/>
<line x1="47" y1="118" x2="38" y2="122"/>
<line x1="58" y1="111" x2="70" y2="109"/>
<line x1="61" y1="102" x2="60" y2="98"/>
<line x1="78" y1="104" x2="70" y2="109"/>
<line x1="79" y1="116" x2="70" y2="109"/>
<line x1="69" y1="125" x2="74" y2="133"/>
<line x1="76" y1="126" x2="74" y2="133"/>
<line x1="84" y1="128" x2="74" y2="133"/>
<line x1="55" y1="136" x2="74" y2="133"/>
<line x1="72" y1="137" x2="74" y2="133"/>
<line x1="90" y1="139" x2="98" y2="152"/>
<line x1="94" y1="104" x2="104" y2="112"/>
<line x1="112" y1="110" x2="104" y2="112"/>
<line x1="110" y1="117" x2="104" y2="112"/>
<line x1="62" y1="146" x2="64" y2="155"/>
<line x1="69" y1="146" x2="64" y2="155"/>
<line x1="80" y1="150" x2="64" y2="155"/>
<line x1="91" y1="154" x2="98" y2="152"/>
<line x1="112" y1="159" x2="98" y2="152"/>
<line x1="53" y1="166" x2="64" y2="155"/>
<line x1="70" y1="171" x2="87" y2="171"/>
<line x1="90" y1="166" x2="87" y2="171"/>
<line x1="100" y1="166" x2="87" y2="171"/>
<line x1="88" y1="182" x2="87" y2="171"/>
<line x1="106" y1="179" x2="87" y2="171"/>
<line x1="19" y1="162" x2="25" y2="175"/>
<line x1="32" y1="185" x2="25" y2="175"/>
<line x1="158" y1="105" x2="150" y2="95"/>
<line x1="154" y1="159" x2="168" y2="170"/>
<line x1="172" y1="155" x2="168" y2="170"/>
<line x1="159" y1="170" x2="168" y2="170"/>
<line x1="179" y1="168" x2="168" y2="170"/>
<line x1="154" y1="177" x2="168" y2="170"/>
<line x1="170" y1="185" x2="168" y2="170"/>
<line x1="235" y1="117" x2="235" y2="130"/>
<line x1="217" y1="142" x2="218" y2="159"/>
<line x1="237" y1="141" x2="235" y2="130"/>
<line x1="242" y1="138" x2="235" y2="130"/>
<line x1="238" y1="157" x2="240" y2="155"/>
<line x1="203" y1="163" x2="218" y2="159"/>
<line x1="221" y1="165" x2="218" y2="159"/>
<line x1="230" y1="166" x2="218" y2="159"/>
<line x1="242" y1="171" x2="240" y2="155"/>
<line x1="213" y1="178" x2="218" y2="159"/>
<line x1="295.5" y1="114" x2="305" y2="110"/>
<line x1="310.7" y1="122.8" x2="305" y2="110"/>
<line x1="315" y1="102.6" x2="310" y2="95"/>
<line x1="292.3" y1="146.6" x2="287" y2="151"/>
<line x1="282.5" y1="156" x2="287" y2="151"/>
<line x1="254.3" y1="159.6" x2="258" y2="165"/>
<line x1="258.7" y1="170.4" x2="258" y2="165"/>
<line x1="311.8" y1="160.7" x2="306" y2="169"/>
<line x1="321.5" y1="166" x2="335" y2="158"/>
<line x1="294.4" y1="173.7" x2="306" y2="169"/>
<line x1="312.8" y1="169.3" x2="306" y2="169"/>
<line x1="329" y1="154.2" x2="335" y2="158"/>
<line x1="341" y1="144.4" x2="335" y2="158"/>
<line x1="337.8" y1="157.4" x2="335" y2="158"/>
<line x1="330.2" y1="146.6" x2="335" y2="158"/>
<line x1="360.5" y1="161.8" x2="348" y2="168"/>
<line x1="354" y1="169.3" x2="348" y2="168"/>
<line x1="366" y1="177" x2="348" y2="168"/>
<line x1="336.7" y1="181.3" x2="348" y2="168"/>
<line x1="350" y1="185.6" x2="348" y2="168"/>
</g>
<g stroke="#6f9a52" stroke-width="0.6">
<path d="M -9.52 0 C -3.81 -4.42 -0.38 -6.90 3.81 -6.90 C 8.00 -6.90 9.52 -3.86 9.52 0 C 9.52 3.86 8.00 6.90 3.81 6.90 C -0.38 6.90 -3.81 4.42 -9.52 0 Z" transform="translate(46.6 48.6) rotate(-61.3)" fill="#8db46b"/>
<path d="M -8.96 0 C -3.58 -4.05 -0.36 -6.32 3.58 -6.32 C 7.53 -6.32 8.96 -3.54 8.96 0 C 8.96 3.54 7.53 6.32 3.58 6.32 C -0.36 6.32 -3.58 4.05 -8.96 0 Z" transform="translate(30 66.7) rotate(141.1)" fill="#93bb70"/>
<path d="M -10.08 0 C -4.03 -5.52 -0.40 -8.62 4.03 -8.62 C 8.47 -8.62 10.08 -4.83 10.08 0 C 10.08 4.83 8.47 8.62 4.03 8.62 C -0.40 8.62 -4.03 5.52 -10.08 0 Z" transform="translate(120.6 39) rotate(-123.9)" fill="#8db46b"/>
<path d="M -8.96 0 C -3.58 -3.31 -0.36 -5.17 3.58 -5.17 C 7.53 -5.17 8.96 -2.90 8.96 0 C 8.96 2.90 7.53 5.17 3.58 5.17 C -0.36 5.17 -3.58 3.31 -8.96 0 Z" transform="translate(94 59) rotate(-103.2)" fill="#9ac076"/>
<path d="M -8.40 0 C -3.36 -5.15 -0.34 -8.05 3.36 -8.05 C 7.06 -8.05 8.40 -4.51 8.40 0 C 8.40 4.51 7.06 8.05 3.36 8.05 C -0.34 8.05 -3.36 5.15 -8.40 0 Z" transform="translate(107 60.6) rotate(-133.8)" fill="#a0c47e"/>
<ellipse cx="100.4" cy="73.4" rx="8" ry="7" transform="rotate(0 100.4 73.4)" fill="#8db46b"/>
<path d="M -7.84 0 C -3.14 -4.42 -0.31 -6.90 3.14 -6.90 C 6.59 -6.90 7.84 -3.86 7.84 0 C 7.84 3.86 6.59 6.90 3.14 6.90 C -0.31 6.90 -3.14 4.42 -7.84 0 Z" transform="translate(83 78.6) rotate(170.2)" fill="#9ac076"/>
<path d="M -7.84 0 C -3.14 -4.05 -0.31 -6.32 3.14 -6.32 C 6.59 -6.32 7.84 -3.54 7.84 0 C 7.84 3.54 6.59 6.32 3.14 6.32 C -0.31 6.32 -3.14 4.05 -7.84 0 Z" transform="translate(117 78) rotate(82.9)" fill="#9ac076"/>
<path d="M -5.60 0 C -2.24 -3.68 -0.22 -5.75 2.24 -5.75 C 4.70 -5.75 5.60 -3.22 5.60 0 C 5.60 3.22 4.70 5.75 2.24 5.75 C -0.22 5.75 -2.24 3.68 -5.60 0 Z" transform="translate(126 69) rotate(170.5)" fill="#a0c47e"/>
<path d="M -7.84 0 C -3.14 -3.31 -0.31 -5.17 3.14 -5.17 C 6.59 -5.17 7.84 -2.90 7.84 0 C 7.84 2.90 6.59 5.17 3.14 5.17 C -0.31 5.17 -3.14 3.31 -7.84 0 Z" transform="translate(88 86) rotate(135.0)" fill="#a0c47e"/>
<path d="M -6.72 0 C -2.69 -2.58 -0.27 -4.02 2.69 -4.02 C 5.64 -4.02 6.72 -2.25 6.72 0 C 6.72 2.25 5.64 4.02 2.69 4.02 C -0.27 4.02 -2.69 2.58 -6.72 0 Z" transform="translate(74 88) rotate(-35.5)" fill="#a0c47e"/>
<path d="M -7.84 0 C -3.14 -2.94 -0.31 -4.60 3.14 -4.60 C 6.59 -4.60 7.84 -2.58 7.84 0 C 7.84 2.58 6.59 4.60 3.14 4.60 C -0.31 4.60 -3.14 2.94 -7.84 0 Z" transform="translate(101 86.6) rotate(74.2)" fill="#9ac076"/>
<path d="M -6.16 0 C -2.46 -3.31 -0.25 -5.17 2.46 -5.17 C 5.17 -5.17 6.16 -2.90 6.16 0 C 6.16 2.90 5.17 5.17 2.46 5.17 C -0.25 5.17 -2.46 3.31 -6.16 0 Z" transform="translate(113 86) rotate(100.6)" fill="#9ac076"/>
<path d="M -4.48 0 C -1.79 -2.21 -0.18 -3.45 1.79 -3.45 C 3.76 -3.45 4.48 -1.93 4.48 0 C 4.48 1.93 3.76 3.45 1.79 3.45 C -0.18 3.45 -1.79 2.21 -4.48 0 Z" transform="translate(118 65) rotate(-68.2)" fill="#93bb70"/>
<path d="M -5.60 0 C -2.24 -3.68 -0.22 -5.75 2.24 -5.75 C 4.70 -5.75 5.60 -3.22 5.60 0 C 5.60 3.22 4.70 5.75 2.24 5.75 C -0.22 5.75 -2.24 3.68 -5.60 0 Z" transform="translate(126 86) rotate(58.0)" fill="#9ac076"/>
<ellipse cx="59" cy="96" rx="8" ry="8" transform="rotate(0 59 96)" fill="#a0c47e"/>
<ellipse cx="50" cy="89" rx="2.5" ry="2.5" transform="rotate(0 50 89)" fill="#93bb70"/>
<path d="M -7.84 0 C -3.14 -3.68 -0.31 -5.75 3.14 -5.75 C 6.59 -5.75 7.84 -3.22 7.84 0 C 7.84 3.22 6.59 5.75 3.14 5.75 C -0.31 5.75 -3.14 3.68 -7.84 0 Z" transform="translate(78 101) rotate(-45.0)" fill="#93bb70"/>
<path d="M -5.60 0 C -2.24 -2.94 -0.22 -4.60 2.24 -4.60 C 4.70 -4.60 5.60 -2.58 5.60 0 C 5.60 2.58 4.70 4.60 2.24 4.60 C -0.22 4.60 -2.24 2.94 -5.60 0 Z" transform="translate(94 102) rotate(-135.0)" fill="#9ac076"/>
<ellipse cx="122" cy="94" rx="6" ry="4" transform="rotate(0 122 94)" fill="#93bb70"/>
<path d="M -10.08 0 C -4.03 -5.15 -0.40 -8.05 4.03 -8.05 C 8.47 -8.05 10.08 -4.51 10.08 0 C 10.08 4.51 8.47 8.05 4.03 8.05 C -0.40 8.05 -4.03 5.15 -10.08 0 Z" transform="translate(141 60) rotate(-41.6)" fill="#a0c47e"/>
<ellipse cx="133" cy="69" rx="5" ry="6" transform="rotate(0 133 69)" fill="#9ac076"/>
<path d="M -6.72 0 C -2.69 -3.68 -0.27 -5.75 2.69 -5.75 C 5.64 -5.75 6.72 -3.22 6.72 0 C 6.72 3.22 5.64 5.75 2.69 5.75 C -0.27 5.75 -2.69 3.68 -6.72 0 Z" transform="translate(142 86) rotate(-131.6)" fill="#93bb70"/>
<path d="M -6.72 0 C -2.69 -3.68 -0.27 -5.75 2.69 -5.75 C 5.64 -5.75 6.72 -3.22 6.72 0 C 6.72 3.22 5.64 5.75 2.69 5.75 C -0.27 5.75 -2.69 3.68 -6.72 0 Z" transform="translate(133 89) rotate(-160.6)" fill="#9ac076"/>
<path d="M -7.84 0 C -3.14 -3.68 -0.31 -5.75 3.14 -5.75 C 6.59 -5.75 7.84 -3.22 7.84 0 C 7.84 3.22 6.59 5.75 3.14 5.75 C -0.31 5.75 -3.14 3.68 -7.84 0 Z" transform="translate(154.4 85) rotate(-66.3)" fill="#a0c47e"/>
<path d="M -6.16 0 C -2.46 -3.68 -0.25 -5.75 2.46 -5.75 C 5.17 -5.75 6.16 -3.22 6.16 0 C 6.16 3.22 5.17 5.75 2.46 5.75 C -0.25 5.75 -2.46 3.68 -6.16 0 Z" transform="translate(158 101.4) rotate(38.7)" fill="#9ac076"/>
<path d="M -8.96 0 C -3.58 -4.05 -0.36 -6.32 3.58 -6.32 C 7.53 -6.32 8.96 -3.54 8.96 0 C 8.96 3.54 7.53 6.32 3.58 6.32 C -0.36 6.32 -3.58 4.05 -8.96 0 Z" transform="translate(237 73.6) rotate(-115.1)" fill="#8db46b"/>
<path d="M -6.72 0 C -2.69 -2.94 -0.27 -4.60 2.69 -4.60 C 5.64 -4.60 6.72 -2.58 6.72 0 C 6.72 2.58 5.64 4.60 2.69 4.60 C -0.27 4.60 -2.69 2.94 -6.72 0 Z" transform="translate(247.6 82) rotate(14.7)" fill="#9ac076"/>
<ellipse cx="235" cy="101.4" rx="3" ry="3" transform="rotate(0 235 101.4)" fill="#9ac076"/>
<path d="M -6.16 0 C -2.46 -4.05 -0.25 -6.32 2.46 -6.32 C 5.17 -6.32 6.16 -3.54 6.16 0 C 6.16 3.54 5.17 6.32 2.46 6.32 C -0.25 6.32 -2.46 4.05 -6.16 0 Z" transform="translate(305.3 24.8) rotate(-142.2)" fill="#9ac076"/>
<path d="M -7.28 0 C -2.91 -3.68 -0.29 -5.75 2.91 -5.75 C 6.12 -5.75 7.28 -3.22 7.28 0 C 7.28 3.22 6.12 5.75 2.91 5.75 C -0.29 5.75 -2.91 3.68 -7.28 0 Z" transform="translate(317.6 33.4) rotate(31.3)" fill="#9ac076"/>
<path d="M -10.08 0 C -4.03 -4.05 -0.40 -6.32 4.03 -6.32 C 8.47 -6.32 10.08 -3.54 10.08 0 C 10.08 3.54 8.47 6.32 4.03 6.32 C -0.40 6.32 -4.03 4.05 -10.08 0 Z" transform="translate(343.2 38.8) rotate(-15.9)" fill="#93bb70"/>
<path d="M -7.84 0 C -3.14 -4.42 -0.31 -6.90 3.14 -6.90 C 6.59 -6.90 7.84 -3.86 7.84 0 C 7.84 3.86 6.59 6.90 3.14 6.90 C -0.31 6.90 -3.14 4.42 -7.84 0 Z" transform="translate(320.4 48.6) rotate(150.4)" fill="#a0c47e"/>
<ellipse cx="330" cy="35.6" rx="2" ry="2" transform="rotate(0 330 35.6)" fill="#93bb70"/>
<ellipse cx="332" cy="44" rx="2.5" ry="2.5" transform="rotate(0 332 44)" fill="#9ac076"/>
<path d="M -7.84 0 C -3.14 -4.05 -0.31 -6.32 3.14 -6.32 C 6.59 -6.32 7.84 -3.54 7.84 0 C 7.84 3.54 6.59 6.32 3.14 6.32 C -0.31 6.32 -3.14 4.05 -7.84 0 Z" transform="translate(336.7 59.4) rotate(74.9)" fill="#93bb70"/>
<path d="M -6.16 0 C -2.46 -2.94 -0.25 -4.60 2.46 -4.60 C 5.17 -4.60 6.16 -2.58 6.16 0 C 6.16 2.58 5.17 4.60 2.46 4.60 C -0.25 4.60 -2.46 2.94 -6.16 0 Z" transform="translate(274.3 51.8) rotate(-74.3)" fill="#93bb70"/>
<path d="M -7.28 0 C -2.91 -4.42 -0.29 -6.90 2.91 -6.90 C 6.12 -6.90 7.28 -3.86 7.28 0 C 7.28 3.86 6.12 6.90 2.91 6.90 C -0.29 6.90 -2.91 4.42 -7.28 0 Z" transform="translate(263 63) rotate(161.6)" fill="#a0c47e"/>
<path d="M -5.60 0 C -2.24 -2.94 -0.22 -4.60 2.24 -4.60 C 4.70 -4.60 5.60 -2.58 5.60 0 C 5.60 2.58 4.70 4.60 2.24 4.60 C -0.22 4.60 -2.24 2.94 -5.60 0 Z" transform="translate(273.8 66) rotate(73.3)" fill="#9ac076"/>
<path d="M -7.84 0 C -3.14 -3.68 -0.31 -5.75 3.14 -5.75 C 6.59 -5.75 7.84 -3.22 7.84 0 C 7.84 3.22 6.59 5.75 3.14 5.75 C -0.31 5.75 -3.14 3.68 -7.84 0 Z" transform="translate(270 72.4) rotate(-56.7)" fill="#8db46b"/>
<ellipse cx="259.8" cy="71.3" rx="2" ry="2" transform="rotate(0 259.8 71.3)" fill="#a0c47e"/>
<path d="M -7.84 0 C -3.14 -2.94 -0.31 -4.60 3.14 -4.60 C 6.59 -4.60 7.84 -2.58 7.84 0 C 7.84 2.58 6.59 4.60 3.14 4.60 C -0.31 4.60 -3.14 2.94 -7.84 0 Z" transform="translate(252.6 81) rotate(175.4)" fill="#a0c47e"/>
<ellipse cx="262" cy="81" rx="6" ry="5.5" transform="rotate(0 262 81)" fill="#9ac076"/>
<path d="M -7.84 0 C -3.14 -4.05 -0.31 -6.32 3.14 -6.32 C 6.59 -6.32 7.84 -3.54 7.84 0 C 7.84 3.54 6.59 6.32 3.14 6.32 C -0.31 6.32 -3.14 4.05 -7.84 0 Z" transform="translate(272.8 93) rotate(59.0)" fill="#93bb70"/>
<ellipse cx="275.6" cy="82.2" rx="2.5" ry="2.5" transform="rotate(0 275.6 82.2)" fill="#9ac076"/>
<ellipse cx="364.8" cy="78.3" rx="9" ry="6" transform="rotate(-20 364.8 78.3)" fill="#93bb70"/>
<path d="M -7.84 0 C -3.14 -4.05 -0.31 -6.32 3.14 -6.32 C 6.59 -6.32 7.84 -3.54 7.84 0 C 7.84 3.54 6.59 6.32 3.14 6.32 C -0.31 6.32 -3.14 4.05 -7.84 0 Z" transform="translate(343.2 86.5) rotate(69.4)" fill="#9ac076"/>
<path d="M -5.04 0 C -2.02 -2.58 -0.20 -4.02 2.02 -4.02 C 4.23 -4.02 5.04 -2.25 5.04 0 C 5.04 2.25 4.23 4.02 2.02 4.02 C -0.20 4.02 -2.02 2.58 -5.04 0 Z" transform="translate(357.3 89.3) rotate(33.2)" fill="#a0c47e"/>
<ellipse cx="334.5" cy="74.6" rx="2.5" ry="2.5" transform="rotate(0 334.5 74.6)" fill="#8db46b"/>
<ellipse cx="341.4" cy="72.4" rx="2.5" ry="2.5" transform="rotate(0 341.4 72.4)" fill="#9ac076"/>
<path d="M -7.84 0 C -3.14 -4.42 -0.31 -6.90 3.14 -6.90 C 6.59 -6.90 7.84 -3.86 7.84 0 C 7.84 3.86 6.59 6.90 3.14 6.90 C -0.31 6.90 -3.14 4.42 -7.84 0 Z" transform="translate(305.9 91.3) rotate(-137.9)" fill="#8db46b"/>
<path d="M -7.84 0 C -3.14 -4.78 -0.31 -7.47 3.14 -7.47 C 6.59 -7.47 7.84 -4.19 7.84 0 C 7.84 4.19 6.59 7.47 3.14 7.47 C -0.31 7.47 -3.14 4.78 -7.84 0 Z" transform="translate(316 97.3) rotate(21.0)" fill="#9ac076"/>
<ellipse cx="348.6" cy="99.5" rx="6" ry="6" transform="rotate(0 348.6 99.5)" fill="#8db46b"/>
<path d="M -9.52 0 C -3.81 -4.05 -0.38 -6.32 3.81 -6.32 C 8.00 -6.32 9.52 -3.54 9.52 0 C 9.52 3.54 8.00 6.32 3.81 6.32 C -0.38 6.32 -3.81 4.05 -9.52 0 Z" transform="translate(23 127) rotate(161.6)" fill="#8db46b"/>
<path d="M -10.64 0 C -4.26 -3.68 -0.43 -5.75 4.26 -5.75 C 8.94 -5.75 10.64 -3.22 10.64 0 C 10.64 3.22 8.94 5.75 4.26 5.75 C -0.43 5.75 -4.26 3.68 -10.64 0 Z" transform="translate(47 118) rotate(-24.0)" fill="#8db46b"/>
<path d="M -7.28 0 C -2.91 -2.94 -0.29 -4.60 2.91 -4.60 C 6.12 -4.60 7.28 -2.58 7.28 0 C 7.28 2.58 6.12 4.60 2.91 4.60 C -0.29 4.60 -2.91 2.94 -7.28 0 Z" transform="translate(58 111) rotate(170.5)" fill="#9ac076"/>
<ellipse cx="31" cy="118" rx="2.5" ry="2.5" transform="rotate(0 31 118)" fill="#9ac076"/>
<ellipse cx="37" cy="126" rx="2.5" ry="2.5" transform="rotate(0 37 126)" fill="#9ac076"/>
<path d="M -5.60 0 C -2.24 -2.21 -0.22 -3.45 2.24 -3.45 C 4.70 -3.45 5.60 -1.93 5.60 0 C 5.60 1.93 4.70 3.45 2.24 3.45 C -0.22 3.45 -2.24 2.21 -5.60 0 Z" transform="translate(61 102) rotate(76.0)" fill="#a0c47e"/>
<path d="M -7.84 0 C -3.14 -3.68 -0.31 -5.75 3.14 -5.75 C 6.59 -5.75 7.84 -3.22 7.84 0 C 7.84 3.22 6.59 5.75 3.14 5.75 C -0.31 5.75 -3.14 3.68 -7.84 0 Z" transform="translate(78 104) rotate(-32.0)" fill="#93bb70"/>
<path d="M -7.84 0 C -3.14 -4.42 -0.31 -6.90 3.14 -6.90 C 6.59 -6.90 7.84 -3.86 7.84 0 C 7.84 3.86 6.59 6.90 3.14 6.90 C -0.31 6.90 -3.14 4.42 -7.84 0 Z" transform="translate(79 116) rotate(37.9)" fill="#8db46b"/>
<path d="M -5.60 0 C -2.24 -3.68 -0.22 -5.75 2.24 -5.75 C 4.70 -5.75 5.60 -3.22 5.60 0 C 5.60 3.22 4.70 5.75 2.24 5.75 C -0.22 5.75 -2.24 3.68 -5.60 0 Z" transform="translate(69 125) rotate(-122.0)" fill="#a0c47e"/>
<path d="M -4.48 0 C -1.79 -2.94 -0.18 -4.60 1.79 -4.60 C 3.76 -4.60 4.48 -2.58 4.48 0 C 4.48 2.58 3.76 4.60 1.79 4.60 C -0.18 4.60 -1.79 2.94 -4.48 0 Z" transform="translate(76 126) rotate(-74.1)" fill="#9ac076"/>
<path d="M -7.28 0 C -2.91 -3.31 -0.29 -5.17 2.91 -5.17 C 6.12 -5.17 7.28 -2.90 7.28 0 C 7.28 2.90 6.12 5.17 2.91 5.17 C -0.29 5.17 -2.91 3.31 -7.28 0 Z" transform="translate(84 128) rotate(-26.6)" fill="#8db46b"/>
<path d="M -6.72 0 C -2.69 -3.68 -0.27 -5.75 2.69 -5.75 C 5.64 -5.75 6.72 -3.22 6.72 0 C 6.72 3.22 5.64 5.75 2.69 5.75 C -0.27 5.75 -2.69 3.68 -6.72 0 Z" transform="translate(55 136) rotate(171.0)" fill="#9ac076"/>
<path d="M -4.48 0 C -1.79 -2.94 -0.18 -4.60 1.79 -4.60 C 3.76 -4.60 4.48 -2.58 4.48 0 C 4.48 2.58 3.76 4.60 1.79 4.60 C -0.18 4.60 -1.79 2.94 -4.48 0 Z" transform="translate(72 137) rotate(116.6)" fill="#93bb70"/>
<path d="M -8.40 0 C -3.36 -5.52 -0.34 -8.62 3.36 -8.62 C 7.06 -8.62 8.40 -4.83 8.40 0 C 8.40 4.83 7.06 8.62 3.36 8.62 C -0.34 8.62 -3.36 5.52 -8.40 0 Z" transform="translate(90 139) rotate(-121.6)" fill="#9ac076"/>
<path d="M -5.60 0 C -2.24 -3.68 -0.22 -5.75 2.24 -5.75 C 4.70 -5.75 5.60 -3.22 5.60 0 C 5.60 3.22 4.70 5.75 2.24 5.75 C -0.22 5.75 -2.24 3.68 -5.60 0 Z" transform="translate(94 104) rotate(-141.3)" fill="#a0c47e"/>
<path d="M -6.72 0 C -2.69 -2.94 -0.27 -4.60 2.69 -4.60 C 5.64 -4.60 6.72 -2.58 6.72 0 C 6.72 2.58 5.64 4.60 2.69 4.60 C -0.27 4.60 -2.69 2.94 -6.72 0 Z" transform="translate(112 110) rotate(-14.0)" fill="#9ac076"/>
<path d="M -5.60 0 C -2.24 -3.31 -0.22 -5.17 2.24 -5.17 C 4.70 -5.17 5.60 -2.90 5.60 0 C 5.60 2.90 4.70 5.17 2.24 5.17 C -0.22 5.17 -2.24 3.31 -5.60 0 Z" transform="translate(110 117) rotate(39.8)" fill="#9ac076"/>
<ellipse cx="128" cy="122" rx="3" ry="6" transform="rotate(0 128 122)" fill="#a0c47e"/>
<ellipse cx="128" cy="140" rx="3" ry="6" transform="rotate(0 128 140)" fill="#8db46b"/>
<path d="M -7.28 0 C -2.91 -3.31 -0.29 -5.17 2.91 -5.17 C 6.12 -5.17 7.28 -2.90 7.28 0 C 7.28 2.90 6.12 5.17 2.91 5.17 C -0.29 5.17 -2.91 3.31 -7.28 0 Z" transform="translate(62 146) rotate(-102.5)" fill="#a0c47e"/>
<path d="M -4.48 0 C -1.79 -2.94 -0.18 -4.60 1.79 -4.60 C 3.76 -4.60 4.48 -2.58 4.48 0 C 4.48 2.58 3.76 4.60 1.79 4.60 C -0.18 4.60 -1.79 2.94 -4.48 0 Z" transform="translate(69 146) rotate(-60.9)" fill="#93bb70"/>
<path d="M -8.96 0 C -3.58 -4.42 -0.36 -6.90 3.58 -6.90 C 7.53 -6.90 8.96 -3.86 8.96 0 C 8.96 3.86 7.53 6.90 3.58 6.90 C -0.36 6.90 -3.58 4.42 -8.96 0 Z" transform="translate(80 150) rotate(-17.4)" fill="#93bb70"/>
<path d="M -4.48 0 C -1.79 -2.94 -0.18 -4.60 1.79 -4.60 C 3.76 -4.60 4.48 -2.58 4.48 0 C 4.48 2.58 3.76 4.60 1.79 4.60 C -0.18 4.60 -1.79 2.94 -4.48 0 Z" transform="translate(91 154) rotate(164.1)" fill="#8db46b"/>
<ellipse cx="103" cy="148" rx="2" ry="2" transform="rotate(0 103 148)" fill="#93bb70"/>
<path d="M -8.96 0 C -3.58 -5.15 -0.36 -8.05 3.58 -8.05 C 7.53 -8.05 8.96 -4.51 8.96 0 C 8.96 4.51 7.53 8.05 3.58 8.05 C -0.36 8.05 -3.58 5.15 -8.96 0 Z" transform="translate(112 159) rotate(26.6)" fill="#9ac076"/>
<path d="M -7.84 0 C -3.14 -4.42 -0.31 -6.90 3.14 -6.90 C 6.59 -6.90 7.84 -3.86 7.84 0 C 7.84 3.86 6.59 6.90 3.14 6.90 C -0.31 6.90 -3.14 4.42 -7.84 0 Z" transform="translate(53 166) rotate(135.0)" fill="#93bb70"/>
<ellipse cx="58" cy="156" rx="2" ry="2" transform="rotate(0 58 156)" fill="#8db46b"/>
<ellipse cx="64" cy="158" rx="2" ry="2" transform="rotate(0 64 158)" fill="#a0c47e"/>
<path d="M -11.20 0 C -4.48 -4.78 -0.45 -7.47 4.48 -7.47 C 9.41 -7.47 11.20 -4.19 11.20 0 C 11.20 4.19 9.41 7.47 4.48 7.47 C -0.45 7.47 -4.48 4.78 -11.20 0 Z" transform="translate(70 171) rotate(180.0)" fill="#8db46b"/>
<path d="M -6.72 0 C -2.69 -3.68 -0.27 -5.75 2.69 -5.75 C 5.64 -5.75 6.72 -3.22 6.72 0 C 6.72 3.22 5.64 5.75 2.69 5.75 C -0.27 5.75 -2.69 3.68 -6.72 0 Z" transform="translate(90 166) rotate(-59.0)" fill="#93bb70"/>
<path d="M -5.60 0 C -2.24 -3.31 -0.22 -5.17 2.24 -5.17 C 4.70 -5.17 5.60 -2.90 5.60 0 C 5.60 2.90 4.70 5.17 2.24 5.17 C -0.22 5.17 -2.24 3.31 -5.60 0 Z" transform="translate(100 166) rotate(-21.0)" fill="#a0c47e"/>
<ellipse cx="81" cy="164" rx="2" ry="2" transform="rotate(0 81 164)" fill="#93bb70"/>
<path d="M -6.72 0 C -2.69 -2.58 -0.27 -4.02 2.69 -4.02 C 5.64 -4.02 6.72 -2.25 6.72 0 C 6.72 2.25 5.64 4.02 2.69 4.02 C -0.27 4.02 -2.69 2.58 -6.72 0 Z" transform="translate(88 182) rotate(84.8)" fill="#9ac076"/>
<path d="M -11.20 0 C -4.48 -5.15 -0.45 -8.05 4.48 -8.05 C 9.41 -8.05 11.20 -4.51 11.20 0 C 11.20 4.51 9.41 8.05 4.48 8.05 C -0.45 8.05 -4.48 5.15 -11.20 0 Z" transform="translate(106 179) rotate(22.8)" fill="#a0c47e"/>
<path d="M -9.52 0 C -3.81 -2.94 -0.38 -4.60 3.81 -4.60 C 8.00 -4.60 9.52 -2.58 9.52 0 C 9.52 2.58 8.00 4.60 3.81 4.60 C -0.38 4.60 -3.81 2.94 -9.52 0 Z" transform="translate(19 162) rotate(-114.8)" fill="#8db46b"/>
<path d="M -8.96 0 C -3.58 -5.52 -0.36 -8.62 3.58 -8.62 C 7.53 -8.62 8.96 -4.83 8.96 0 C 8.96 4.83 7.53 8.62 3.58 8.62 C -0.36 8.62 -3.58 5.52 -8.96 0 Z" transform="translate(32 185) rotate(55.0)" fill="#8db46b"/>
<path d="M -6.72 0 C -2.69 -4.05 -0.27 -6.32 2.69 -6.32 C 5.64 -6.32 6.72 -3.54 6.72 0 C 6.72 3.54 5.64 6.32 2.69 6.32 C -0.27 6.32 -2.69 4.05 -6.72 0 Z" transform="translate(158 105) rotate(51.3)" fill="#93bb70"/>
<ellipse cx="132.4" cy="121" rx="4" ry="7" transform="rotate(0 132.4 121)" fill="#9ac076"/>
<ellipse cx="132" cy="140" rx="3" ry="6" transform="rotate(0 132 140)" fill="#9ac076"/>
<ellipse cx="142.4" cy="115" rx="2" ry="2" transform="rotate(0 142.4 115)" fill="#a0c47e"/>
<path d="M -7.84 0 C -3.14 -3.68 -0.31 -5.75 3.14 -5.75 C 6.59 -5.75 7.84 -3.22 7.84 0 C 7.84 3.22 6.59 5.75 3.14 5.75 C -0.31 5.75 -3.14 3.68 -7.84 0 Z" transform="translate(154 159) rotate(-141.8)" fill="#8db46b"/>
<path d="M -8.96 0 C -3.58 -4.78 -0.36 -7.47 3.58 -7.47 C 7.53 -7.47 8.96 -4.19 8.96 0 C 8.96 4.19 7.53 7.47 3.58 7.47 C -0.36 7.47 -3.58 4.78 -8.96 0 Z" transform="translate(172 155) rotate(-75.1)" fill="#9ac076"/>
<ellipse cx="139" cy="167" rx="5" ry="4" transform="rotate(0 139 167)" fill="#8db46b"/>
<ellipse cx="134" cy="165" rx="2" ry="2" transform="rotate(0 134 165)" fill="#93bb70"/>
<path d="M -7.84 0 C -3.14 -2.58 -0.31 -4.02 3.14 -4.02 C 6.59 -4.02 7.84 -2.25 7.84 0 C 7.84 2.25 6.59 4.02 3.14 4.02 C -0.31 4.02 -3.14 2.58 -7.84 0 Z" transform="translate(159 170) rotate(180.0)" fill="#93bb70"/>
<path d="M -7.28 0 C -2.91 -2.58 -0.29 -4.02 2.91 -4.02 C 6.12 -4.02 7.28 -2.25 7.28 0 C 7.28 2.25 6.12 4.02 2.91 4.02 C -0.29 4.02 -2.91 2.58 -7.28 0 Z" transform="translate(179 168) rotate(-10.3)" fill="#93bb70"/>
<path d="M -7.84 0 C -3.14 -3.68 -0.31 -5.75 3.14 -5.75 C 6.59 -5.75 7.84 -3.22 7.84 0 C 7.84 3.22 6.59 5.75 3.14 5.75 C -0.31 5.75 -3.14 3.68 -7.84 0 Z" transform="translate(154 177) rotate(153.4)" fill="#8db46b"/>
<path d="M -9.52 0 C -3.81 -5.15 -0.38 -8.05 3.81 -8.05 C 8.00 -8.05 9.52 -4.51 9.52 0 C 9.52 4.51 8.00 8.05 3.81 8.05 C -0.38 8.05 -3.81 5.15 -9.52 0 Z" transform="translate(170 185) rotate(82.4)" fill="#9ac076"/>
<path d="M -9.52 0 C -3.81 -4.05 -0.38 -6.32 3.81 -6.32 C 8.00 -6.32 9.52 -3.54 9.52 0 C 9.52 3.54 8.00 6.32 3.81 6.32 C -0.38 6.32 -3.81 4.05 -9.52 0 Z" transform="translate(235 117) rotate(-90.0)" fill="#9ac076"/>
<ellipse cx="235" cy="102.4" rx="2" ry="2" transform="rotate(0 235 102.4)" fill="#8db46b"/>
<path d="M -10.08 0 C -4.03 -4.42 -0.40 -6.90 4.03 -6.90 C 8.47 -6.90 10.08 -3.86 10.08 0 C 10.08 3.86 8.47 6.90 4.03 6.90 C -0.40 6.90 -4.03 4.42 -10.08 0 Z" transform="translate(217 142) rotate(-93.4)" fill="#93bb70"/>
<path d="M -6.16 0 C -2.46 -3.68 -0.25 -5.75 2.46 -5.75 C 5.17 -5.75 6.16 -3.22 6.16 0 C 6.16 3.22 5.17 5.75 2.46 5.75 C -0.25 5.75 -2.46 3.68 -6.16 0 Z" transform="translate(237 141) rotate(79.7)" fill="#9ac076"/>
<path d="M -5.60 0 C -2.24 -2.94 -0.22 -4.60 2.24 -4.60 C 4.70 -4.60 5.60 -2.58 5.60 0 C 5.60 2.58 4.70 4.60 2.24 4.60 C -0.22 4.60 -2.24 2.94 -5.60 0 Z" transform="translate(242 138) rotate(48.8)" fill="#8db46b"/>
<ellipse cx="247" cy="145" rx="2" ry="2" transform="rotate(0 247 145)" fill="#8db46b"/>
<ellipse cx="238" cy="157" rx="3.5" ry="4.5" transform="rotate(0 238 157)" fill="#a0c47e"/>
<ellipse cx="195" cy="164" rx="6.5" ry="6" transform="rotate(0 195 164)" fill="#a0c47e"/>
<path d="M -4.48 0 C -1.79 -2.21 -0.18 -3.45 1.79 -3.45 C 3.76 -3.45 4.48 -1.93 4.48 0 C 4.48 1.93 3.76 3.45 1.79 3.45 C -0.18 3.45 -1.79 2.21 -4.48 0 Z" transform="translate(203 163) rotate(165.1)" fill="#9ac076"/>
<path d="M -7.84 0 C -3.14 -4.42 -0.31 -6.90 3.14 -6.90 C 6.59 -6.90 7.84 -3.86 7.84 0 C 7.84 3.86 6.59 6.90 3.14 6.90 C -0.31 6.90 -3.14 4.42 -7.84 0 Z" transform="translate(221 165) rotate(63.4)" fill="#8db46b"/>
<path d="M -5.04 0 C -2.02 -2.94 -0.20 -4.60 2.02 -4.60 C 4.23 -4.60 5.04 -2.58 5.04 0 C 5.04 2.58 4.23 4.60 2.02 4.60 C -0.20 4.60 -2.02 2.94 -5.04 0 Z" transform="translate(230 166) rotate(30.3)" fill="#8db46b"/>
<ellipse cx="214" cy="156" rx="2" ry="2" transform="rotate(0 214 156)" fill="#9ac076"/>
<path d="M -6.72 0 C -2.69 -3.31 -0.27 -5.17 2.69 -5.17 C 5.64 -5.17 6.72 -2.90 6.72 0 C 6.72 2.90 5.64 5.17 2.69 5.17 C -0.27 5.17 -2.69 3.31 -6.72 0 Z" transform="translate(242 171) rotate(82.9)" fill="#93bb70"/>
<path d="M -7.28 0 C -2.91 -4.78 -0.29 -7.47 2.91 -7.47 C 6.12 -7.47 7.28 -4.19 7.28 0 C 7.28 4.19 6.12 7.47 2.91 7.47 C -0.29 7.47 -2.91 4.78 -7.28 0 Z" transform="translate(213 178) rotate(104.7)" fill="#8db46b"/>
<ellipse cx="234" cy="178" rx="5.5" ry="6" transform="rotate(0 234 178)" fill="#93bb70"/>
<ellipse cx="235" cy="190" rx="4.5" ry="5.5" transform="rotate(0 235 190)" fill="#a0c47e"/>
<ellipse cx="197" cy="178" rx="2.5" ry="4" transform="rotate(0 197 178)" fill="#93bb70"/>
<ellipse cx="206" cy="170" rx="2" ry="2" transform="rotate(0 206 170)" fill="#93bb70"/>
<ellipse cx="347.5" cy="104.3" rx="6.5" ry="6" transform="rotate(0 347.5 104.3)" fill="#9ac076"/>
<path d="M -9.52 0 C -3.81 -4.78 -0.38 -7.47 3.81 -7.47 C 8.00 -7.47 9.52 -4.19 9.52 0 C 9.52 4.19 8.00 7.47 3.81 7.47 C -0.38 7.47 -3.81 4.78 -9.52 0 Z" transform="translate(295.5 114) rotate(157.2)" fill="#a0c47e"/>
<path d="M -10.08 0 C -4.03 -4.42 -0.40 -6.90 4.03 -6.90 C 8.47 -6.90 10.08 -3.86 10.08 0 C 10.08 3.86 8.47 6.90 4.03 6.90 C -0.40 6.90 -4.03 4.42 -10.08 0 Z" transform="translate(310.7 122.8) rotate(66.0)" fill="#a0c47e"/>
<path d="M -6.16 0 C -2.46 -2.58 -0.25 -4.02 2.46 -4.02 C 5.17 -4.02 6.16 -2.25 6.16 0 C 6.16 2.25 5.17 4.02 2.46 4.02 C -0.25 4.02 -2.46 2.58 -6.16 0 Z" transform="translate(315 102.6) rotate(56.7)" fill="#93bb70"/>
<ellipse cx="312.8" cy="113" rx="2" ry="2" transform="rotate(0 312.8 113)" fill="#93bb70"/>
<path d="M -5.04 0 C -2.02 -2.94 -0.20 -4.60 2.02 -4.60 C 4.23 -4.60 5.04 -2.58 5.04 0 C 5.04 2.58 4.23 4.60 2.02 4.60 C -0.20 4.60 -2.02 2.94 -5.04 0 Z" transform="translate(292.3 146.6) rotate(-39.7)" fill="#93bb70"/>
<path d="M -5.04 0 C -2.02 -3.31 -0.20 -5.17 2.02 -5.17 C 4.23 -5.17 5.04 -2.90 5.04 0 C 5.04 2.90 4.23 5.17 2.02 5.17 C -0.20 5.17 -2.02 3.31 -5.04 0 Z" transform="translate(282.5 156) rotate(132.0)" fill="#93bb70"/>
<path d="M -6.72 0 C -2.69 -4.42 -0.27 -6.90 2.69 -6.90 C 5.64 -6.90 6.72 -3.86 6.72 0 C 6.72 3.86 5.64 6.90 2.69 6.90 C -0.27 6.90 -2.69 4.42 -6.72 0 Z" transform="translate(254.3 159.6) rotate(-124.4)" fill="#a0c47e"/>
<path d="M -7.84 0 C -3.14 -3.68 -0.31 -5.75 3.14 -5.75 C 6.59 -5.75 7.84 -3.22 7.84 0 C 7.84 3.22 6.59 5.75 3.14 5.75 C -0.31 5.75 -3.14 3.68 -7.84 0 Z" transform="translate(258.7 170.4) rotate(82.6)" fill="#9ac076"/>
<ellipse cx="265.2" cy="188.4" rx="4.5" ry="5.5" transform="rotate(0 265.2 188.4)" fill="#a0c47e"/>
<path d="M -6.16 0 C -2.46 -3.68 -0.25 -5.75 2.46 -5.75 C 5.17 -5.75 6.16 -3.22 6.16 0 C 6.16 3.22 5.17 5.75 2.46 5.75 C -0.25 5.75 -2.46 3.68 -6.16 0 Z" transform="translate(311.8 160.7) rotate(-55.1)" fill="#8db46b"/>
<path d="M -7.84 0 C -3.14 -4.42 -0.31 -6.90 3.14 -6.90 C 6.59 -6.90 7.84 -3.86 7.84 0 C 7.84 3.86 6.59 6.90 3.14 6.90 C -0.31 6.90 -3.14 4.42 -7.84 0 Z" transform="translate(321.5 166) rotate(149.3)" fill="#93bb70"/>
<path d="M -7.28 0 C -2.91 -3.68 -0.29 -5.75 2.91 -5.75 C 6.12 -5.75 7.28 -3.22 7.28 0 C 7.28 3.22 6.12 5.75 2.91 5.75 C -0.29 5.75 -2.91 3.68 -7.28 0 Z" transform="translate(294.4 173.7) rotate(157.9)" fill="#8db46b"/>
<path d="M -4.48 0 C -1.79 -2.94 -0.18 -4.60 1.79 -4.60 C 3.76 -4.60 4.48 -2.58 4.48 0 C 4.48 2.58 3.76 4.60 1.79 4.60 C -0.18 4.60 -1.79 2.94 -4.48 0 Z" transform="translate(312.8 169.3) rotate(2.5)" fill="#9ac076"/>
<path d="M -6.72 0 C -2.69 -4.05 -0.27 -6.32 2.69 -6.32 C 5.64 -6.32 6.72 -3.54 6.72 0 C 6.72 3.54 5.64 6.32 2.69 6.32 C -0.27 6.32 -2.69 4.05 -6.72 0 Z" transform="translate(329 154.2) rotate(-147.7)" fill="#8db46b"/>
<path d="M -7.28 0 C -2.91 -4.42 -0.29 -6.90 2.91 -6.90 C 6.12 -6.90 7.28 -3.86 7.28 0 C 7.28 3.86 6.12 6.90 2.91 6.90 C -0.29 6.90 -2.91 4.42 -7.28 0 Z" transform="translate(341 144.4) rotate(-66.2)" fill="#9ac076"/>
<ellipse cx="337.8" cy="157.4" rx="4.5" ry="7" transform="rotate(0 337.8 157.4)" fill="#93bb70"/>
<path d="M -5.60 0 C -2.24 -2.94 -0.22 -4.60 2.24 -4.60 C 4.70 -4.60 5.60 -2.58 5.60 0 C 5.60 2.58 4.70 4.60 2.24 4.60 C -0.22 4.60 -2.24 2.94 -5.60 0 Z" transform="translate(330.2 146.6) rotate(-112.8)" fill="#8db46b"/>
<ellipse cx="345.3" cy="149.8" rx="2" ry="2" transform="rotate(0 345.3 149.8)" fill="#93bb70"/>
<path d="M -7.28 0 C -2.91 -4.42 -0.29 -6.90 2.91 -6.90 C 6.12 -6.90 7.28 -3.86 7.28 0 C 7.28 3.86 6.12 6.90 2.91 6.90 C -0.29 6.90 -2.91 4.42 -7.28 0 Z" transform="translate(360.5 161.8) rotate(-26.4)" fill="#a0c47e"/>
<path d="M -7.84 0 C -3.14 -3.68 -0.31 -5.75 3.14 -5.75 C 6.59 -5.75 7.84 -3.22 7.84 0 C 7.84 3.22 6.59 5.75 3.14 5.75 C -0.31 5.75 -3.14 3.68 -7.84 0 Z" transform="translate(354 169.3) rotate(12.2)" fill="#8db46b"/>
<path d="M -10.64 0 C -4.26 -4.42 -0.43 -6.90 4.26 -6.90 C 8.94 -6.90 10.64 -3.86 10.64 0 C 10.64 3.86 8.94 6.90 4.26 6.90 C -0.43 6.90 -4.26 4.42 -10.64 0 Z" transform="translate(366 177) rotate(26.6)" fill="#9ac076"/>
<path d="M -7.84 0 C -3.14 -5.15 -0.31 -8.05 3.14 -8.05 C 6.59 -8.05 7.84 -4.51 7.84 0 C 7.84 4.51 6.59 8.05 3.14 8.05 C -0.31 8.05 -3.14 5.15 -7.84 0 Z" transform="translate(336.7 181.3) rotate(130.4)" fill="#8db46b"/>
<path d="M -5.60 0 C -2.24 -3.31 -0.22 -5.17 2.24 -5.17 C 4.70 -5.17 5.60 -2.90 5.60 0 C 5.60 2.90 4.70 5.17 2.24 5.17 C -0.22 5.17 -2.24 3.31 -5.60 0 Z" transform="translate(350 185.6) rotate(83.5)" fill="#93bb70"/>
<ellipse cx="321.5" cy="154.2" rx="2" ry="2" transform="rotate(0 321.5 154.2)" fill="#93bb70"/>
</g>
</g>
<text x="151.30" y="42.20" font-size="15" font-weight="normal" text-anchor="middle" fill="#fff">- Cd</text>
<text x="229.00" y="41.30" font-size="15" font-weight="normal" text-anchor="middle" fill="#fff">+ Cd</text>
</g>
<text x="191.00" y="18.70" font-size="15" font-weight="normal" text-anchor="middle" fill="#000">A</text>
<line x1="436.80" y1="27.10" x2="591.10" y2="27.10" stroke="#8a8a8a" stroke-width="1"/>
<line x1="591.10" y1="27.10" x2="591.10" y2="181.50" stroke="#8a8a8a" stroke-width="1"/>
<line x1="436.80" y1="27.10" x2="436.80" y2="181.50" stroke="#8a8a8a" stroke-width="1"/>
<line x1="436.80" y1="181.50" x2="591.10" y2="181.50" stroke="#8a8a8a" stroke-width="1"/>
<line x1="432.80" y1="181.50" x2="436.80" y2="181.50" stroke="#8a8a8a" stroke-width="1"/>
<text x="426.80" y="185.10" font-size="10" font-weight="bold" text-anchor="end" fill="#000" stroke="#000" stroke-width="0.08">0</text>
<line x1="432.80" y1="142.90" x2="436.80" y2="142.90" stroke="#8a8a8a" stroke-width="1"/>
<text x="426.80" y="146.50" font-size="10" font-weight="bold" text-anchor="end" fill="#000" stroke="#000" stroke-width="0.08">10</text>
<line x1="432.80" y1="104.30" x2="436.80" y2="104.30" stroke="#8a8a8a" stroke-width="1"/>
<text x="426.80" y="107.90" font-size="10" font-weight="bold" text-anchor="end" fill="#000" stroke="#000" stroke-width="0.08">20</text>
<line x1="432.80" y1="65.70" x2="436.80" y2="65.70" stroke="#8a8a8a" stroke-width="1"/>
<text x="426.80" y="69.30" font-size="10" font-weight="bold" text-anchor="end" fill="#000" stroke="#000" stroke-width="0.08">30</text>
<line x1="432.80" y1="27.10" x2="436.80" y2="27.10" stroke="#8a8a8a" stroke-width="1"/>
<text x="426.80" y="30.70" font-size="10" font-weight="bold" text-anchor="end" fill="#000" stroke="#000" stroke-width="0.08">40</text>
<rect x="472.40" y="72.26" width="31.50" height="109.24" fill="#000" stroke="none" stroke-width="0.6"/>
<line x1="488.15" y1="72.26" x2="488.15" y2="53.73" stroke="#333" stroke-width="1"/>
<line x1="484.45" y1="53.73" x2="491.85" y2="53.73" stroke="#333" stroke-width="1"/>
<rect x="523.70" y="64.16" width="31.50" height="117.34" fill="#000" stroke="none" stroke-width="0.6"/>
<line x1="539.45" y1="64.16" x2="539.45" y2="43.50" stroke="#333" stroke-width="1"/>
<line x1="535.75" y1="43.50" x2="543.15" y2="43.50" stroke="#333" stroke-width="1"/>
<line x1="487.70" y1="181.50" x2="487.70" y2="184.50" stroke="#8a8a8a" stroke-width="1"/>
<text x="487.70" y="198.00" font-size="10" font-weight="bold" text-anchor="middle" fill="#000" stroke="#000" stroke-width="0.08">- Cd</text>
<line x1="539.00" y1="181.50" x2="539.00" y2="184.50" stroke="#8a8a8a" stroke-width="1"/>
<text x="539.00" y="198.00" font-size="10" font-weight="bold" text-anchor="middle" fill="#000" stroke="#000" stroke-width="0.08">+ Cd</text>
<text x="513.80" y="20.20" font-size="15" font-weight="normal" text-anchor="middle" fill="#000">B</text>
<text x="404.00" y="104.00" font-size="11" font-weight="bold" text-anchor="middle" fill="#000" stroke="#000" stroke-width="0.08" transform="rotate(-90 404 104)">Seedling biomass (mg plant<tspan baseline-shift="super" font-size="7">-1</tspan> FW)</text>
<line x1="46.90" y1="229.60" x2="193.10" y2="229.60" stroke="#8a8a8a" stroke-width="1"/>
<line x1="193.10" y1="229.60" x2="193.10" y2="375.00" stroke="#8a8a8a" stroke-width="1"/>
<line x1="46.90" y1="229.60" x2="46.90" y2="375.00" stroke="#8a8a8a" stroke-width="1"/>
<line x1="46.90" y1="375.00" x2="193.10" y2="375.00" stroke="#8a8a8a" stroke-width="1"/>
<line x1="43.90" y1="375.00" x2="46.90" y2="375.00" stroke="#8a8a8a" stroke-width="1"/>
<text x="40.40" y="378.60" font-size="10" font-weight="bold" text-anchor="end" fill="#000" stroke="#000" stroke-width="0.08">0</text>
<line x1="43.90" y1="326.53" x2="46.90" y2="326.53" stroke="#8a8a8a" stroke-width="1"/>
<text x="40.40" y="330.13" font-size="10" font-weight="bold" text-anchor="end" fill="#000" stroke="#000" stroke-width="0.08">10</text>
<line x1="43.90" y1="278.07" x2="46.90" y2="278.07" stroke="#8a8a8a" stroke-width="1"/>
<text x="40.40" y="281.67" font-size="10" font-weight="bold" text-anchor="end" fill="#000" stroke="#000" stroke-width="0.08">20</text>
<line x1="43.90" y1="229.60" x2="46.90" y2="229.60" stroke="#8a8a8a" stroke-width="1"/>
<text x="40.40" y="233.20" font-size="10" font-weight="bold" text-anchor="end" fill="#000" stroke="#000" stroke-width="0.08">30</text>
<rect x="65.00" y="253.35" width="11.70" height="121.65" fill="#0896ab" stroke="#0a4a56" stroke-width="0.8"/>
<rect x="76.70" y="363.37" width="11.70" height="11.63" fill="#920000" stroke="#3a0000" stroke-width="0.8"/>
<line x1="70.85" y1="252.14" x2="70.85" y2="254.56" stroke="#222" stroke-width="1"/>
<line x1="68.35" y1="252.14" x2="73.35" y2="252.14" stroke="#222" stroke-width="1"/>
<line x1="68.35" y1="254.56" x2="73.35" y2="254.56" stroke="#222" stroke-width="1"/>
<line x1="82.55" y1="362.16" x2="82.55" y2="364.58" stroke="#222" stroke-width="1"/>
<line x1="80.05" y1="362.16" x2="85.05" y2="362.16" stroke="#222" stroke-width="1"/>
<line x1="80.05" y1="364.58" x2="85.05" y2="364.58" stroke="#222" stroke-width="1"/>
<text x="70.85" y="249.14" font-size="9" font-weight="bold" text-anchor="middle" fill="#2a9fc0" stroke="#2a9fc0" stroke-width="0.08">a</text>
<text x="82.55" y="359.16" font-size="9" font-weight="bold" text-anchor="middle" fill="#980808" stroke="#980808" stroke-width="0.08">a</text>
<rect x="93.80" y="248.99" width="11.70" height="126.01" fill="#0896ab" stroke="#0a4a56" stroke-width="0.8"/>
<rect x="105.50" y="365.79" width="11.70" height="9.21" fill="#920000" stroke="#3a0000" stroke-width="0.8"/>
<line x1="99.65" y1="241.72" x2="99.65" y2="256.26" stroke="#222" stroke-width="1"/>
<line x1="97.15" y1="241.72" x2="102.15" y2="241.72" stroke="#222" stroke-width="1"/>
<line x1="97.15" y1="256.26" x2="102.15" y2="256.26" stroke="#222" stroke-width="1"/>
<line x1="111.35" y1="364.58" x2="111.35" y2="367.00" stroke="#222" stroke-width="1"/>
<line x1="108.85" y1="364.58" x2="113.85" y2="364.58" stroke="#222" stroke-width="1"/>
<line x1="108.85" y1="367.00" x2="113.85" y2="367.00" stroke="#222" stroke-width="1"/>
<text x="99.65" y="238.72" font-size="9" font-weight="bold" text-anchor="middle" fill="#2a9fc0" stroke="#2a9fc0" stroke-width="0.08">a</text>
<text x="111.35" y="361.58" font-size="9" font-weight="bold" text-anchor="middle" fill="#980808" stroke="#980808" stroke-width="0.08">a</text>
<rect x="122.90" y="255.29" width="11.70" height="119.71" fill="#0896ab" stroke="#0a4a56" stroke-width="0.8"/>
<rect x="134.60" y="365.31" width="11.70" height="9.69" fill="#920000" stroke="#3a0000" stroke-width="0.8"/>
<line x1="128.75" y1="241.72" x2="128.75" y2="268.86" stroke="#222" stroke-width="1"/>
<line x1="126.25" y1="241.72" x2="131.25" y2="241.72" stroke="#222" stroke-width="1"/>
<line x1="126.25" y1="268.86" x2="131.25" y2="268.86" stroke="#222" stroke-width="1"/>
<line x1="140.45" y1="363.37" x2="140.45" y2="367.25" stroke="#222" stroke-width="1"/>
<line x1="137.95" y1="363.37" x2="142.95" y2="363.37" stroke="#222" stroke-width="1"/>
<line x1="137.95" y1="367.25" x2="142.95" y2="367.25" stroke="#222" stroke-width="1"/>
<text x="128.75" y="238.72" font-size="9" font-weight="bold" text-anchor="middle" fill="#2a9fc0" stroke="#2a9fc0" stroke-width="0.08">a</text>
<text x="140.45" y="360.37" font-size="9" font-weight="bold" text-anchor="middle" fill="#980808" stroke="#980808" stroke-width="0.08">a</text>
<rect x="152.30" y="299.39" width="11.70" height="75.61" fill="#0896ab" stroke="#0a4a56" stroke-width="0.8"/>
<rect x="164.00" y="369.67" width="11.70" height="5.33" fill="#920000" stroke="#3a0000" stroke-width="0.8"/>
<line x1="158.15" y1="292.61" x2="158.15" y2="306.18" stroke="#222" stroke-width="1"/>
<line x1="155.65" y1="292.61" x2="160.65" y2="292.61" stroke="#222" stroke-width="1"/>
<line x1="155.65" y1="306.18" x2="160.65" y2="306.18" stroke="#222" stroke-width="1"/>
<line x1="169.85" y1="369.09" x2="169.85" y2="370.25" stroke="#222" stroke-width="1"/>
<line x1="167.35" y1="369.09" x2="172.35" y2="369.09" stroke="#222" stroke-width="1"/>
<line x1="167.35" y1="370.25" x2="172.35" y2="370.25" stroke="#222" stroke-width="1"/>
<text x="158.15" y="289.61" font-size="9" font-weight="bold" text-anchor="middle" fill="#2a9fc0" stroke="#2a9fc0" stroke-width="0.08">b</text>
<text x="169.85" y="366.09" font-size="9" font-weight="bold" text-anchor="middle" fill="#980808" stroke="#980808" stroke-width="0.08">b</text>
<line x1="76.70" y1="375.00" x2="76.70" y2="378.00" stroke="#8a8a8a" stroke-width="1"/>
<text x="76.70" y="392.20" font-size="10" font-weight="bold" text-anchor="middle" fill="#000" stroke="#000" stroke-width="0.08">Cd0</text>
<line x1="105.50" y1="375.00" x2="105.50" y2="378.00" stroke="#8a8a8a" stroke-width="1"/>
<text x="105.50" y="392.20" font-size="10" font-weight="bold" text-anchor="middle" fill="#000" stroke="#000" stroke-width="0.08">Cd5</text>
<line x1="134.60" y1="375.00" x2="134.60" y2="378.00" stroke="#8a8a8a" stroke-width="1"/>
<text x="134.60" y="392.20" font-size="10" font-weight="bold" text-anchor="middle" fill="#000" stroke="#000" stroke-width="0.08">Cd20</text>
<line x1="164.00" y1="375.00" x2="164.00" y2="378.00" stroke="#8a8a8a" stroke-width="1"/>
<text x="164.00" y="392.20" font-size="10" font-weight="bold" text-anchor="middle" fill="#000" stroke="#000" stroke-width="0.08">Cd45</text>
<text x="118.50" y="225.00" font-size="14.5" font-weight="normal" text-anchor="middle" fill="#000">C</text>
<text x="20.00" y="302.00" font-size="10.5" font-weight="bold" text-anchor="middle" fill="#000" stroke="#000" stroke-width="0.08" transform="rotate(-90 20 302)">Biomass yield (g plant<tspan baseline-shift="super" font-size="7">-1</tspan> DW)</text>
<line x1="250.20" y1="229.60" x2="396.60" y2="229.60" stroke="#8a8a8a" stroke-width="1"/>
<line x1="396.60" y1="229.60" x2="396.60" y2="375.50" stroke="#8a8a8a" stroke-width="1"/>
<line x1="250.20" y1="229.60" x2="250.20" y2="375.50" stroke="#8a8a8a" stroke-width="1"/>
<line x1="250.20" y1="375.50" x2="396.60" y2="375.50" stroke="#8a8a8a" stroke-width="1"/>
<line x1="247.20" y1="375.50" x2="250.20" y2="375.50" stroke="#8a8a8a" stroke-width="1"/>
<text x="244.00" y="379.10" font-size="10" font-weight="bold" text-anchor="end" fill="#000" stroke="#000" stroke-width="0.08">0</text>
<line x1="247.20" y1="339.02" x2="250.20" y2="339.02" stroke="#8a8a8a" stroke-width="1"/>
<text x="244.00" y="342.62" font-size="10" font-weight="bold" text-anchor="end" fill="#000" stroke="#000" stroke-width="0.08">50</text>
<line x1="247.20" y1="302.55" x2="250.20" y2="302.55" stroke="#8a8a8a" stroke-width="1"/>
<text x="244.00" y="306.15" font-size="10" font-weight="bold" text-anchor="end" fill="#000" stroke="#000" stroke-width="0.08">100</text>
<line x1="247.20" y1="266.07" x2="250.20" y2="266.07" stroke="#8a8a8a" stroke-width="1"/>
<text x="244.00" y="269.68" font-size="10" font-weight="bold" text-anchor="end" fill="#000" stroke="#000" stroke-width="0.08">150</text>
<line x1="247.20" y1="229.60" x2="250.20" y2="229.60" stroke="#8a8a8a" stroke-width="1"/>
<text x="244.00" y="233.20" font-size="10" font-weight="bold" text-anchor="end" fill="#000" stroke="#000" stroke-width="0.08">200</text>
<rect x="268.20" y="375.28" width="11.70" height="0.22" fill="#0896ab" stroke="#0a4a56" stroke-width="0.8"/>
<rect x="279.90" y="375.21" width="11.70" height="0.29" fill="#920000" stroke="#3a0000" stroke-width="0.8"/>
<text x="274.05" y="372.28" font-size="9" font-weight="bold" text-anchor="middle" fill="#2a9fc0" stroke="#2a9fc0" stroke-width="0.08">d</text>
<text x="285.75" y="372.21" font-size="9" font-weight="bold" text-anchor="middle" fill="#980808" stroke="#980808" stroke-width="0.08">d</text>
<rect x="297.30" y="369.96" width="11.70" height="5.54" fill="#0896ab" stroke="#0a4a56" stroke-width="0.8"/>
<rect x="309.00" y="369.96" width="11.70" height="5.54" fill="#920000" stroke="#3a0000" stroke-width="0.8"/>
<line x1="303.15" y1="369.59" x2="303.15" y2="370.32" stroke="#222" stroke-width="1"/>
<line x1="300.65" y1="369.59" x2="305.65" y2="369.59" stroke="#222" stroke-width="1"/>
<line x1="300.65" y1="370.32" x2="305.65" y2="370.32" stroke="#222" stroke-width="1"/>
<line x1="314.85" y1="369.59" x2="314.85" y2="370.32" stroke="#222" stroke-width="1"/>
<line x1="312.35" y1="369.59" x2="317.35" y2="369.59" stroke="#222" stroke-width="1"/>
<line x1="312.35" y1="370.32" x2="317.35" y2="370.32" stroke="#222" stroke-width="1"/>
<text x="303.15" y="366.59" font-size="9" font-weight="bold" text-anchor="middle" fill="#2a9fc0" stroke="#2a9fc0" stroke-width="0.08">c</text>
<text x="314.85" y="366.59" font-size="9" font-weight="bold" text-anchor="middle" fill="#980808" stroke="#980808" stroke-width="0.08">c</text>
<rect x="326.40" y="351.43" width="11.70" height="24.07" fill="#0896ab" stroke="#0a4a56" stroke-width="0.8"/>
<rect x="338.10" y="344.13" width="11.70" height="31.37" fill="#920000" stroke="#3a0000" stroke-width="0.8"/>
<line x1="332.25" y1="349.60" x2="332.25" y2="353.25" stroke="#222" stroke-width="1"/>
<line x1="329.75" y1="349.60" x2="334.75" y2="349.60" stroke="#222" stroke-width="1"/>
<line x1="329.75" y1="353.25" x2="334.75" y2="353.25" stroke="#222" stroke-width="1"/>
<line x1="343.95" y1="343.40" x2="343.95" y2="344.86" stroke="#222" stroke-width="1"/>
<line x1="341.45" y1="343.40" x2="346.45" y2="343.40" stroke="#222" stroke-width="1"/>
<line x1="341.45" y1="344.86" x2="346.45" y2="344.86" stroke="#222" stroke-width="1"/>
<text x="332.25" y="346.60" font-size="9" font-weight="bold" text-anchor="middle" fill="#2a9fc0" stroke="#2a9fc0" stroke-width="0.08">b</text>
<text x="343.95" y="340.40" font-size="9" font-weight="bold" text-anchor="middle" fill="#980808" stroke="#980808" stroke-width="0.08">b</text>
<rect x="355.50" y="314.22" width="11.70" height="61.28" fill="#0896ab" stroke="#0a4a56" stroke-width="0.8"/>
<rect x="367.20" y="243.83" width="11.70" height="131.67" fill="#920000" stroke="#3a0000" stroke-width="0.8"/>
<line x1="361.35" y1="310.57" x2="361.35" y2="317.87" stroke="#222" stroke-width="1"/>
<line x1="358.85" y1="310.57" x2="363.85" y2="310.57" stroke="#222" stroke-width="1"/>
<line x1="358.85" y1="317.87" x2="363.85" y2="317.87" stroke="#222" stroke-width="1"/>
<line x1="373.05" y1="242.73" x2="373.05" y2="244.92" stroke="#222" stroke-width="1"/>
<line x1="370.55" y1="242.73" x2="375.55" y2="242.73" stroke="#222" stroke-width="1"/>
<line x1="370.55" y1="244.92" x2="375.55" y2="244.92" stroke="#222" stroke-width="1"/>
<text x="361.35" y="307.57" font-size="9" font-weight="bold" text-anchor="middle" fill="#2a9fc0" stroke="#2a9fc0" stroke-width="0.08">a</text>
<text x="373.05" y="239.73" font-size="9" font-weight="bold" text-anchor="middle" fill="#980808" stroke="#980808" stroke-width="0.08">a</text>
<line x1="279.90" y1="375.50" x2="279.90" y2="378.50" stroke="#8a8a8a" stroke-width="1"/>
<text x="279.90" y="392.20" font-size="10" font-weight="bold" text-anchor="middle" fill="#000" stroke="#000" stroke-width="0.08">Cd0</text>
<line x1="309.00" y1="375.50" x2="309.00" y2="378.50" stroke="#8a8a8a" stroke-width="1"/>
<text x="309.00" y="392.20" font-size="10" font-weight="bold" text-anchor="middle" fill="#000" stroke="#000" stroke-width="0.08">Cd5</text>
<line x1="338.10" y1="375.50" x2="338.10" y2="378.50" stroke="#8a8a8a" stroke-width="1"/>
<text x="338.10" y="392.20" font-size="10" font-weight="bold" text-anchor="middle" fill="#000" stroke="#000" stroke-width="0.08">Cd20</text>
<line x1="367.20" y1="375.50" x2="367.20" y2="378.50" stroke="#8a8a8a" stroke-width="1"/>
<text x="367.20" y="392.20" font-size="10" font-weight="bold" text-anchor="middle" fill="#000" stroke="#000" stroke-width="0.08">Cd45</text>
<text x="320.00" y="225.40" font-size="14.5" font-weight="normal" text-anchor="middle" fill="#000">D</text>
<text x="215.70" y="298.00" font-size="10.5" font-weight="bold" text-anchor="middle" fill="#000" stroke="#000" stroke-width="0.08" transform="rotate(-90 215.7 298)">Cd concentration (mg kg<tspan baseline-shift="super" font-size="7">-1</tspan> DW)</text>
<line x1="445.20" y1="228.90" x2="591.30" y2="228.90" stroke="#8a8a8a" stroke-width="1"/>
<line x1="591.30" y1="228.90" x2="591.30" y2="374.60" stroke="#8a8a8a" stroke-width="1"/>
<line x1="445.20" y1="228.90" x2="445.20" y2="374.60" stroke="#8a8a8a" stroke-width="1"/>
<line x1="445.20" y1="374.60" x2="591.30" y2="374.60" stroke="#8a8a8a" stroke-width="1"/>
<line x1="442.20" y1="374.60" x2="445.20" y2="374.60" stroke="#8a8a8a" stroke-width="1"/>
<text x="439.20" y="378.20" font-size="10" font-weight="bold" text-anchor="end" fill="#000" stroke="#000" stroke-width="0.08">0</text>
<line x1="442.20" y1="345.46" x2="445.20" y2="345.46" stroke="#8a8a8a" stroke-width="1"/>
<text x="439.20" y="349.06" font-size="10" font-weight="bold" text-anchor="end" fill="#000" stroke="#000" stroke-width="0.08">1</text>
<line x1="442.20" y1="316.32" x2="445.20" y2="316.32" stroke="#8a8a8a" stroke-width="1"/>
<text x="439.20" y="319.92" font-size="10" font-weight="bold" text-anchor="end" fill="#000" stroke="#000" stroke-width="0.08">2</text>
<line x1="442.20" y1="287.18" x2="445.20" y2="287.18" stroke="#8a8a8a" stroke-width="1"/>
<text x="439.20" y="290.78" font-size="10" font-weight="bold" text-anchor="end" fill="#000" stroke="#000" stroke-width="0.08">3</text>
<line x1="442.20" y1="258.04" x2="445.20" y2="258.04" stroke="#8a8a8a" stroke-width="1"/>
<text x="439.20" y="261.64" font-size="10" font-weight="bold" text-anchor="end" fill="#000" stroke="#000" stroke-width="0.08">4</text>
<line x1="442.20" y1="228.90" x2="445.20" y2="228.90" stroke="#8a8a8a" stroke-width="1"/>
<text x="439.20" y="232.50" font-size="10" font-weight="bold" text-anchor="end" fill="#000" stroke="#000" stroke-width="0.08">5</text>
<rect x="467.60" y="342.55" width="14.70" height="32.05" fill="#0896ab" stroke="#0a4a56" stroke-width="0.8"/>
<rect x="482.30" y="341.67" width="14.70" height="32.93" fill="#920000" stroke="#3a0000" stroke-width="0.8"/>
<line x1="474.95" y1="341.09" x2="474.95" y2="344.00" stroke="#222" stroke-width="1"/>
<line x1="472.45" y1="341.09" x2="477.45" y2="341.09" stroke="#222" stroke-width="1"/>
<line x1="472.45" y1="344.00" x2="477.45" y2="344.00" stroke="#222" stroke-width="1"/>
<line x1="489.65" y1="340.80" x2="489.65" y2="342.55" stroke="#222" stroke-width="1"/>
<line x1="487.15" y1="340.80" x2="492.15" y2="340.80" stroke="#222" stroke-width="1"/>
<line x1="487.15" y1="342.55" x2="492.15" y2="342.55" stroke="#222" stroke-width="1"/>
<text x="474.95" y="338.09" font-size="9" font-weight="bold" text-anchor="middle" fill="#2a9fc0" stroke="#2a9fc0" stroke-width="0.08">b</text>
<text x="489.65" y="337.80" font-size="9" font-weight="bold" text-anchor="middle" fill="#980808" stroke="#980808" stroke-width="0.08">c</text>
<rect x="503.90" y="327.39" width="14.70" height="47.21" fill="#0896ab" stroke="#0a4a56" stroke-width="0.8"/>
<rect x="518.60" y="312.82" width="14.70" height="61.78" fill="#920000" stroke="#3a0000" stroke-width="0.8"/>
<line x1="511.25" y1="323.31" x2="511.25" y2="331.47" stroke="#222" stroke-width="1"/>
<line x1="508.75" y1="323.31" x2="513.75" y2="323.31" stroke="#222" stroke-width="1"/>
<line x1="508.75" y1="331.47" x2="513.75" y2="331.47" stroke="#222" stroke-width="1"/>
<line x1="525.95" y1="311.66" x2="525.95" y2="313.99" stroke="#222" stroke-width="1"/>
<line x1="523.45" y1="311.66" x2="528.45" y2="311.66" stroke="#222" stroke-width="1"/>
<line x1="523.45" y1="313.99" x2="528.45" y2="313.99" stroke="#222" stroke-width="1"/>
<text x="511.25" y="320.31" font-size="9" font-weight="bold" text-anchor="middle" fill="#2a9fc0" stroke="#2a9fc0" stroke-width="0.08">a</text>
<text x="525.95" y="308.66" font-size="9" font-weight="bold" text-anchor="middle" fill="#980808" stroke="#980808" stroke-width="0.08">b</text>
<rect x="540.10" y="320.69" width="14.70" height="53.91" fill="#0896ab" stroke="#0a4a56" stroke-width="0.8"/>
<rect x="554.80" y="258.33" width="14.70" height="116.27" fill="#920000" stroke="#3a0000" stroke-width="0.8"/>
<line x1="547.45" y1="317.19" x2="547.45" y2="324.19" stroke="#222" stroke-width="1"/>
<line x1="544.95" y1="317.19" x2="549.95" y2="317.19" stroke="#222" stroke-width="1"/>
<line x1="544.95" y1="324.19" x2="549.95" y2="324.19" stroke="#222" stroke-width="1"/>
<line x1="562.15" y1="257.17" x2="562.15" y2="259.50" stroke="#222" stroke-width="1"/>
<line x1="559.65" y1="257.17" x2="564.65" y2="257.17" stroke="#222" stroke-width="1"/>
<line x1="559.65" y1="259.50" x2="564.65" y2="259.50" stroke="#222" stroke-width="1"/>
<text x="547.45" y="314.19" font-size="9" font-weight="bold" text-anchor="middle" fill="#2a9fc0" stroke="#2a9fc0" stroke-width="0.08">a</text>
<text x="562.15" y="254.17" font-size="9" font-weight="bold" text-anchor="middle" fill="#980808" stroke="#980808" stroke-width="0.08">a</text>
<line x1="482.30" y1="374.60" x2="482.30" y2="377.60" stroke="#8a8a8a" stroke-width="1"/>
<text x="482.30" y="391.20" font-size="10" font-weight="bold" text-anchor="middle" fill="#000" stroke="#000" stroke-width="0.08">Cd5</text>
<line x1="518.60" y1="374.60" x2="518.60" y2="377.60" stroke="#8a8a8a" stroke-width="1"/>
<text x="518.60" y="391.20" font-size="10" font-weight="bold" text-anchor="middle" fill="#000" stroke="#000" stroke-width="0.08">Cd20</text>
<line x1="554.80" y1="374.60" x2="554.80" y2="377.60" stroke="#8a8a8a" stroke-width="1"/>
<text x="554.80" y="391.20" font-size="10" font-weight="bold" text-anchor="middle" fill="#000" stroke="#000" stroke-width="0.08">Cd45</text>
<text x="518.00" y="224.60" font-size="14.5" font-weight="normal" text-anchor="middle" fill="#000">E</text>
<text x="423.50" y="301.50" font-size="12" font-weight="bold" text-anchor="middle" fill="#000" stroke="#000" stroke-width="0.08" transform="rotate(-90 423.5 301.5)">Bioconcentration factor</text>
<rect x="381.3" y="197.50" width="75.4" height="24.50" fill="none" stroke="#2ae62a" stroke-width="2" stroke-dasharray="4.6 2.6"/>
<rect x="390.80" y="200.80" width="23.90" height="4.50" fill="#0896ab" stroke="#333" stroke-width="0.6"/>
<rect x="390.80" y="214.20" width="23.90" height="4.20" fill="#920000" stroke="#333" stroke-width="0.6"/>
<text x="420.00" y="206.80" font-size="10" font-weight="bold" text-anchor="start" fill="#000" stroke="#000" stroke-width="0.08">Shoot</text>
<text x="420.00" y="219.30" font-size="10" font-weight="bold" text-anchor="start" fill="#000" stroke="#000" stroke-width="0.08">Root</text>
<rect x="381.3" y="392.20" width="75.4" height="24.50" fill="none" stroke="#2ae62a" stroke-width="2" stroke-dasharray="4.6 2.6"/>
<rect x="390.80" y="395.50" width="23.90" height="4.50" fill="#0896ab" stroke="#333" stroke-width="0.6"/>
<rect x="390.80" y="408.90" width="23.90" height="4.20" fill="#920000" stroke="#333" stroke-width="0.6"/>
<text x="420.00" y="401.50" font-size="10" font-weight="bold" text-anchor="start" fill="#000" stroke="#000" stroke-width="0.08">Shoot</text>
<text x="420.00" y="414.00" font-size="10" font-weight="bold" text-anchor="start" fill="#000" stroke="#000" stroke-width="0.08">Root</text>
<line x1="47.40" y1="425.10" x2="193.50" y2="425.10" stroke="#8a8a8a" stroke-width="1"/>
<line x1="193.50" y1="425.10" x2="193.50" y2="570.20" stroke="#8a8a8a" stroke-width="1"/>
<line x1="47.40" y1="425.10" x2="47.40" y2="570.20" stroke="#8a8a8a" stroke-width="1"/>
<line x1="47.40" y1="570.20" x2="193.50" y2="570.20" stroke="#8a8a8a" stroke-width="1"/>
<line x1="43.40" y1="570.20" x2="47.40" y2="570.20" stroke="#8a8a8a" stroke-width="1"/>
<text x="38.90" y="573.80" font-size="10" font-weight="bold" text-anchor="end" fill="#000" stroke="#000" stroke-width="0.08">0.0</text>
<line x1="43.40" y1="521.83" x2="47.40" y2="521.83" stroke="#8a8a8a" stroke-width="1"/>
<text x="38.90" y="525.43" font-size="10" font-weight="bold" text-anchor="end" fill="#000" stroke="#000" stroke-width="0.08">0.4</text>
<line x1="43.40" y1="473.47" x2="47.40" y2="473.47" stroke="#8a8a8a" stroke-width="1"/>
<text x="38.90" y="477.07" font-size="10" font-weight="bold" text-anchor="end" fill="#000" stroke="#000" stroke-width="0.08">0.8</text>
<line x1="43.40" y1="425.10" x2="47.40" y2="425.10" stroke="#8a8a8a" stroke-width="1"/>
<text x="38.90" y="428.70" font-size="10" font-weight="bold" text-anchor="end" fill="#000" stroke="#000" stroke-width="0.08">1.2</text>
<rect x="73.00" y="452.91" width="22.00" height="117.29" fill="#000" stroke="none" stroke-width="0.6"/>
<line x1="84.00" y1="452.91" x2="84.00" y2="449.28" stroke="#333" stroke-width="1"/>
<line x1="80.50" y1="449.28" x2="87.50" y2="449.28" stroke="#333" stroke-width="1"/>
<text x="84.00" y="446.28" font-size="10" font-weight="bold" text-anchor="middle" fill="#000" stroke="#000" stroke-width="0.08">a</text>
<rect x="109.20" y="477.09" width="22.00" height="93.11" fill="#000" stroke="none" stroke-width="0.6"/>
<line x1="120.20" y1="477.09" x2="120.20" y2="470.44" stroke="#333" stroke-width="1"/>
<line x1="116.70" y1="470.44" x2="123.70" y2="470.44" stroke="#333" stroke-width="1"/>
<text x="120.20" y="467.44" font-size="10" font-weight="bold" text-anchor="middle" fill="#000" stroke="#000" stroke-width="0.08">b</text>
<rect x="145.60" y="513.97" width="22.00" height="56.23" fill="#000" stroke="none" stroke-width="0.6"/>
<line x1="156.60" y1="513.97" x2="156.60" y2="509.14" stroke="#333" stroke-width="1"/>
<line x1="153.10" y1="509.14" x2="160.10" y2="509.14" stroke="#333" stroke-width="1"/>
<text x="156.60" y="506.14" font-size="10" font-weight="bold" text-anchor="middle" fill="#000" stroke="#000" stroke-width="0.08">c</text>
<line x1="84.00" y1="570.20" x2="84.00" y2="573.20" stroke="#8a8a8a" stroke-width="1"/>
<text x="84.00" y="587.20" font-size="10" font-weight="bold" text-anchor="middle" fill="#000" stroke="#000" stroke-width="0.08">Cd5</text>
<line x1="120.20" y1="570.20" x2="120.20" y2="573.20" stroke="#8a8a8a" stroke-width="1"/>
<text x="120.20" y="587.20" font-size="10" font-weight="bold" text-anchor="middle" fill="#000" stroke="#000" stroke-width="0.08">Cd20</text>
<line x1="156.60" y1="570.20" x2="156.60" y2="573.20" stroke="#8a8a8a" stroke-width="1"/>
<text x="156.60" y="587.20" font-size="10" font-weight="bold" text-anchor="middle" fill="#000" stroke="#000" stroke-width="0.08">Cd45</text>
<text x="119.00" y="420.10" font-size="14.5" font-weight="normal" text-anchor="middle" fill="#000">F</text>
<text x="14.60" y="497.70" font-size="10.2" font-weight="bold" text-anchor="middle" fill="#000" stroke="#000" stroke-width="0.08" transform="rotate(-90 14.6 497.7)">Translocation factor</text>
<line x1="250.30" y1="425.10" x2="396.20" y2="425.10" stroke="#8a8a8a" stroke-width="1"/>
<line x1="396.20" y1="425.10" x2="396.20" y2="570.60" stroke="#8a8a8a" stroke-width="1"/>
<line x1="250.30" y1="425.10" x2="250.30" y2="570.60" stroke="#8a8a8a" stroke-width="1"/>
<line x1="250.30" y1="570.60" x2="396.20" y2="570.60" stroke="#8a8a8a" stroke-width="1"/>
<line x1="247.30" y1="570.60" x2="250.30" y2="570.60" stroke="#8a8a8a" stroke-width="1"/>
<text x="243.90" y="574.20" font-size="10" font-weight="bold" text-anchor="end" fill="#000" stroke="#000" stroke-width="0.08">0</text>
<line x1="247.30" y1="534.23" x2="250.30" y2="534.23" stroke="#8a8a8a" stroke-width="1"/>
<text x="243.90" y="537.83" font-size="10" font-weight="bold" text-anchor="end" fill="#000" stroke="#000" stroke-width="0.08">400</text>
<line x1="247.30" y1="497.85" x2="250.30" y2="497.85" stroke="#8a8a8a" stroke-width="1"/>
<text x="243.90" y="501.45" font-size="10" font-weight="bold" text-anchor="end" fill="#000" stroke="#000" stroke-width="0.08">800</text>
<line x1="247.30" y1="461.48" x2="250.30" y2="461.48" stroke="#8a8a8a" stroke-width="1"/>
<text x="243.90" y="465.08" font-size="10" font-weight="bold" text-anchor="end" fill="#000" stroke="#000" stroke-width="0.08">1200</text>
<line x1="247.30" y1="425.10" x2="250.30" y2="425.10" stroke="#8a8a8a" stroke-width="1"/>
<text x="243.90" y="428.70" font-size="10" font-weight="bold" text-anchor="end" fill="#000" stroke="#000" stroke-width="0.08">1600</text>
<rect x="272.60" y="553.32" width="14.70" height="17.28" fill="#0896ab" stroke="#0a4a56" stroke-width="0.8"/>
<rect x="287.30" y="569.24" width="14.70" height="1.36" fill="#920000" stroke="#3a0000" stroke-width="0.8"/>
<line x1="279.95" y1="552.87" x2="279.95" y2="553.78" stroke="#222" stroke-width="1"/>
<line x1="277.45" y1="552.87" x2="282.45" y2="552.87" stroke="#222" stroke-width="1"/>
<line x1="277.45" y1="553.78" x2="282.45" y2="553.78" stroke="#222" stroke-width="1"/>
<line x1="294.65" y1="568.96" x2="294.65" y2="569.51" stroke="#222" stroke-width="1"/>
<line x1="292.15" y1="568.96" x2="297.15" y2="568.96" stroke="#222" stroke-width="1"/>
<line x1="292.15" y1="569.51" x2="297.15" y2="569.51" stroke="#222" stroke-width="1"/>
<text x="279.95" y="549.87" font-size="9" font-weight="bold" text-anchor="middle" fill="#2a9fc0" stroke="#2a9fc0" stroke-width="0.08">c</text>
<text x="294.65" y="565.96" font-size="9" font-weight="bold" text-anchor="middle" fill="#980808" stroke="#980808" stroke-width="0.08">c</text>
<rect x="308.90" y="497.85" width="14.70" height="72.75" fill="#0896ab" stroke="#0a4a56" stroke-width="0.8"/>
<rect x="323.60" y="562.42" width="14.70" height="8.18" fill="#920000" stroke="#3a0000" stroke-width="0.8"/>
<line x1="316.25" y1="491.94" x2="316.25" y2="503.76" stroke="#222" stroke-width="1"/>
<line x1="313.75" y1="491.94" x2="318.75" y2="491.94" stroke="#222" stroke-width="1"/>
<line x1="313.75" y1="503.76" x2="318.75" y2="503.76" stroke="#222" stroke-width="1"/>
<line x1="330.95" y1="560.60" x2="330.95" y2="564.23" stroke="#222" stroke-width="1"/>
<line x1="328.45" y1="560.60" x2="333.45" y2="560.60" stroke="#222" stroke-width="1"/>
<line x1="328.45" y1="564.23" x2="333.45" y2="564.23" stroke="#222" stroke-width="1"/>
<text x="316.25" y="488.94" font-size="9" font-weight="bold" text-anchor="middle" fill="#2a9fc0" stroke="#2a9fc0" stroke-width="0.08">b</text>
<text x="330.95" y="557.60" font-size="9" font-weight="bold" text-anchor="middle" fill="#980808" stroke="#980808" stroke-width="0.08">b</text>
<rect x="345.20" y="451.93" width="14.70" height="118.67" fill="#0896ab" stroke="#0a4a56" stroke-width="0.8"/>
<rect x="359.90" y="551.50" width="14.70" height="19.10" fill="#920000" stroke="#3a0000" stroke-width="0.8"/>
<line x1="352.55" y1="436.01" x2="352.55" y2="467.84" stroke="#222" stroke-width="1"/>
<line x1="350.05" y1="436.01" x2="355.05" y2="436.01" stroke="#222" stroke-width="1"/>
<line x1="350.05" y1="467.84" x2="355.05" y2="467.84" stroke="#222" stroke-width="1"/>
<line x1="367.25" y1="549.23" x2="367.25" y2="553.78" stroke="#222" stroke-width="1"/>
<line x1="364.75" y1="549.23" x2="369.75" y2="549.23" stroke="#222" stroke-width="1"/>
<line x1="364.75" y1="553.78" x2="369.75" y2="553.78" stroke="#222" stroke-width="1"/>
<text x="352.55" y="433.01" font-size="9" font-weight="bold" text-anchor="middle" fill="#2a9fc0" stroke="#2a9fc0" stroke-width="0.08">a</text>
<text x="367.25" y="546.23" font-size="9" font-weight="bold" text-anchor="middle" fill="#980808" stroke="#980808" stroke-width="0.08">a</text>
<line x1="287.30" y1="570.60" x2="287.30" y2="573.60" stroke="#8a8a8a" stroke-width="1"/>
<text x="287.30" y="587.60" font-size="10" font-weight="bold" text-anchor="middle" fill="#000" stroke="#000" stroke-width="0.08">Cd5</text>
<line x1="323.60" y1="570.60" x2="323.60" y2="573.60" stroke="#8a8a8a" stroke-width="1"/>
<text x="323.60" y="587.60" font-size="10" font-weight="bold" text-anchor="middle" fill="#000" stroke="#000" stroke-width="0.08">Cd20</text>
<line x1="359.90" y1="570.60" x2="359.90" y2="573.60" stroke="#8a8a8a" stroke-width="1"/>
<text x="359.90" y="587.60" font-size="10" font-weight="bold" text-anchor="middle" fill="#000" stroke="#000" stroke-width="0.08">Cd45</text>
<text x="324.90" y="419.80" font-size="14.5" font-weight="normal" text-anchor="middle" fill="#000">G</text>
<text x="210.70" y="498.00" font-size="12" font-weight="bold" text-anchor="middle" fill="#000" stroke="#000" stroke-width="0.08" transform="rotate(-90 210.7 498)">Cd content (μg plant<tspan baseline-shift="super" font-size="7">-1</tspan>)</text>
<line x1="445.70" y1="425.30" x2="445.70" y2="569.50" stroke="#8a8a8a" stroke-width="1"/>
<line x1="445.70" y1="569.50" x2="592.00" y2="569.50" stroke="#8a8a8a" stroke-width="1"/>
<line x1="592.00" y1="425.30" x2="592.00" y2="569.50" stroke="#8a8a8a" stroke-width="1"/>
<line x1="442.70" y1="569.50" x2="445.70" y2="569.50" stroke="#8a8a8a" stroke-width="1"/>
<text x="438.70" y="573.10" font-size="10" font-weight="bold" text-anchor="end" fill="#000" stroke="#000" stroke-width="0.08">0</text>
<line x1="442.70" y1="533.45" x2="445.70" y2="533.45" stroke="#8a8a8a" stroke-width="1"/>
<text x="438.70" y="537.05" font-size="10" font-weight="bold" text-anchor="end" fill="#000" stroke="#000" stroke-width="0.08">25</text>
<line x1="442.70" y1="497.40" x2="445.70" y2="497.40" stroke="#8a8a8a" stroke-width="1"/>
<text x="438.70" y="501.00" font-size="10" font-weight="bold" text-anchor="end" fill="#000" stroke="#000" stroke-width="0.08">50</text>
<line x1="442.70" y1="461.35" x2="445.70" y2="461.35" stroke="#8a8a8a" stroke-width="1"/>
<text x="438.70" y="464.95" font-size="10" font-weight="bold" text-anchor="end" fill="#000" stroke="#000" stroke-width="0.08">75</text>
<line x1="442.70" y1="425.30" x2="445.70" y2="425.30" stroke="#8a8a8a" stroke-width="1"/>
<text x="438.70" y="428.90" font-size="10" font-weight="bold" text-anchor="end" fill="#000" stroke="#000" stroke-width="0.08">100</text>
<rect x="471.30" y="425.30" width="22.00" height="144.20" fill="#0896ab" stroke="#0a4a56" stroke-width="0.8"/>
<rect x="471.30" y="558.68" width="22.00" height="10.82" fill="#920000" stroke="#3a0000" stroke-width="0.8"/>
<text x="482.30" y="584.70" font-size="10" font-weight="bold" text-anchor="middle" fill="#000" stroke="#000" stroke-width="0.08">Cd5</text>
<rect x="507.60" y="425.30" width="22.00" height="144.20" fill="#0896ab" stroke="#0a4a56" stroke-width="0.8"/>
<rect x="507.60" y="555.08" width="22.00" height="14.42" fill="#920000" stroke="#3a0000" stroke-width="0.8"/>
<text x="518.60" y="584.70" font-size="10" font-weight="bold" text-anchor="middle" fill="#000" stroke="#000" stroke-width="0.08">Cd20</text>
<rect x="544.00" y="425.30" width="22.00" height="144.20" fill="#0896ab" stroke="#0a4a56" stroke-width="0.8"/>
<rect x="544.00" y="548.59" width="22.00" height="20.91" fill="#920000" stroke="#3a0000" stroke-width="0.8"/>
<text x="555.00" y="584.70" font-size="10" font-weight="bold" text-anchor="middle" fill="#000" stroke="#000" stroke-width="0.08">Cd45</text>
<text x="519.00" y="419.80" font-size="14.5" font-weight="normal" text-anchor="middle" fill="#000">H</text>
<text x="413.00" y="496.80" font-size="10.5" font-weight="bold" text-anchor="middle" fill="#000" stroke="#000" stroke-width="0.08" transform="rotate(-90 413 496.8)">Proportion of Cd content (%)</text>
</svg></body></html>
